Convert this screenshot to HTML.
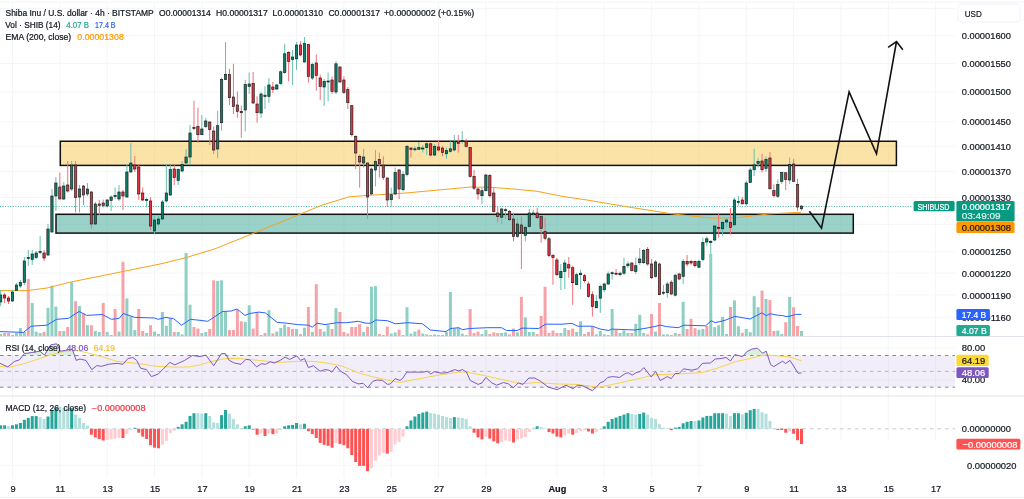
<!DOCTYPE html>
<html><head><meta charset="utf-8"><style>html,body{margin:0;padding:0;background:#fff;overflow:hidden}</style></head>
<body><svg width="1024" height="499" viewBox="0 0 1024 499" style="display:block;font-family:'Liberation Sans', sans-serif;will-change:transform">
<rect width="1024" height="499" fill="#fff"/>
<line x1="12.5" y1="2" x2="12.5" y2="478" stroke="#f4f5f7" stroke-width="1"/>
<line x1="59.8" y1="2" x2="59.8" y2="478" stroke="#f4f5f7" stroke-width="1"/>
<line x1="107.2" y1="2" x2="107.2" y2="478" stroke="#f4f5f7" stroke-width="1"/>
<line x1="154.5" y1="2" x2="154.5" y2="478" stroke="#f4f5f7" stroke-width="1"/>
<line x1="201.9" y1="2" x2="201.9" y2="478" stroke="#f4f5f7" stroke-width="1"/>
<line x1="249.2" y1="2" x2="249.2" y2="478" stroke="#f4f5f7" stroke-width="1"/>
<line x1="296.5" y1="2" x2="296.5" y2="478" stroke="#f4f5f7" stroke-width="1"/>
<line x1="343.9" y1="2" x2="343.9" y2="478" stroke="#f4f5f7" stroke-width="1"/>
<line x1="391.2" y1="2" x2="391.2" y2="478" stroke="#f4f5f7" stroke-width="1"/>
<line x1="438.6" y1="2" x2="438.6" y2="478" stroke="#f4f5f7" stroke-width="1"/>
<line x1="485.9" y1="2" x2="485.9" y2="478" stroke="#f4f5f7" stroke-width="1"/>
<line x1="556.9" y1="2" x2="556.9" y2="478" stroke="#f4f5f7" stroke-width="1"/>
<line x1="604.2" y1="2" x2="604.2" y2="478" stroke="#f4f5f7" stroke-width="1"/>
<line x1="651.6" y1="2" x2="651.6" y2="478" stroke="#f4f5f7" stroke-width="1"/>
<line x1="698.9" y1="2" x2="698.9" y2="478" stroke="#f4f5f7" stroke-width="1"/>
<line x1="746.3" y1="2" x2="746.3" y2="441" stroke="#f4f5f7" stroke-width="1"/>
<line x1="793.6" y1="2" x2="793.6" y2="441" stroke="#f4f5f7" stroke-width="1"/>
<line x1="841.0" y1="2" x2="841.0" y2="441" stroke="#f4f5f7" stroke-width="1"/>
<line x1="888.3" y1="2" x2="888.3" y2="441" stroke="#f4f5f7" stroke-width="1"/>
<line x1="935.6" y1="2" x2="935.6" y2="441" stroke="#f4f5f7" stroke-width="1"/>
<line x1="0" y1="8.6" x2="955" y2="8.6" stroke="#f4f5f7" stroke-width="1"/>
<line x1="0" y1="35.6" x2="955" y2="35.6" stroke="#f4f5f7" stroke-width="1"/>
<line x1="0" y1="63.4" x2="955" y2="63.4" stroke="#f4f5f7" stroke-width="1"/>
<line x1="0" y1="92.1" x2="955" y2="92.1" stroke="#f4f5f7" stroke-width="1"/>
<line x1="0" y1="121.8" x2="955" y2="121.8" stroke="#f4f5f7" stroke-width="1"/>
<line x1="0" y1="146.3" x2="955" y2="146.3" stroke="#f4f5f7" stroke-width="1"/>
<line x1="0" y1="171.5" x2="955" y2="171.5" stroke="#f4f5f7" stroke-width="1"/>
<line x1="0" y1="197.5" x2="955" y2="197.5" stroke="#f4f5f7" stroke-width="1"/>
<line x1="0" y1="224.3" x2="955" y2="224.3" stroke="#f4f5f7" stroke-width="1"/>
<line x1="0" y1="251.8" x2="955" y2="251.8" stroke="#f4f5f7" stroke-width="1"/>
<line x1="0" y1="273.1" x2="955" y2="273.1" stroke="#f4f5f7" stroke-width="1"/>
<line x1="0" y1="294.9" x2="955" y2="294.9" stroke="#f4f5f7" stroke-width="1"/>
<line x1="0" y1="317.3" x2="955" y2="317.3" stroke="#f4f5f7" stroke-width="1"/>
<line x1="0" y1="348" x2="955" y2="348" stroke="#f4f5f7" stroke-width="1"/>
<line x1="0" y1="380" x2="955" y2="380" stroke="#f4f5f7" stroke-width="1"/>
<line x1="0" y1="465.3" x2="705" y2="465.3" stroke="#f4f5f7" stroke-width="1"/>
<line x1="0" y1="2" x2="1024" y2="2" stroke="#f3f4f7" stroke-width="1"/>
<line x1="0" y1="336.5" x2="1024" y2="336.5" stroke="#e0e3eb" stroke-width="1"/>
<line x1="0" y1="396" x2="1024" y2="396" stroke="#e0e3eb" stroke-width="1"/>
<line x1="0" y1="497.3" x2="1024" y2="497.3" stroke="#eceef2" stroke-width="1"/>
<rect x="-0.83" y="334.0" width="3" height="2.0" fill="#8fcfc4"/>
<rect x="3.11" y="333.0" width="3" height="3.0" fill="#f5a3a9"/>
<rect x="7.05" y="333.0" width="3" height="3.0" fill="#f5a3a9"/>
<rect x="11.00" y="335.0" width="3" height="1.0" fill="#8fcfc4"/>
<rect x="14.95" y="333.0" width="3" height="3.0" fill="#8fcfc4"/>
<rect x="18.89" y="328.0" width="3" height="8.0" fill="#8fcfc4"/>
<rect x="22.84" y="332.0" width="3" height="4.0" fill="#8fcfc4"/>
<rect x="26.78" y="278.9" width="3" height="57.1" fill="#f5a3a9"/>
<rect x="30.72" y="303.0" width="3" height="33.0" fill="#8fcfc4"/>
<rect x="34.67" y="331.6" width="3" height="4.4" fill="#8fcfc4"/>
<rect x="38.61" y="333.0" width="3" height="3.0" fill="#8fcfc4"/>
<rect x="42.56" y="332.0" width="3" height="4.0" fill="#f5a3a9"/>
<rect x="46.50" y="307.8" width="3" height="28.2" fill="#8fcfc4"/>
<rect x="50.45" y="285.7" width="3" height="50.3" fill="#8fcfc4"/>
<rect x="54.39" y="306.6" width="3" height="29.4" fill="#8fcfc4"/>
<rect x="58.34" y="331.0" width="3" height="5.0" fill="#f5a3a9"/>
<rect x="62.28" y="331.0" width="3" height="5.0" fill="#8fcfc4"/>
<rect x="66.23" y="327.0" width="3" height="9.0" fill="#f5a3a9"/>
<rect x="70.17" y="282.2" width="3" height="53.8" fill="#8fcfc4"/>
<rect x="74.12" y="301.2" width="3" height="34.8" fill="#f5a3a9"/>
<rect x="78.06" y="306.0" width="3" height="30.0" fill="#8fcfc4"/>
<rect x="82.01" y="313.5" width="3" height="22.5" fill="#f5a3a9"/>
<rect x="85.95" y="325.2" width="3" height="10.8" fill="#8fcfc4"/>
<rect x="89.90" y="325.2" width="3" height="10.8" fill="#f5a3a9"/>
<rect x="93.84" y="331.0" width="3" height="5.0" fill="#8fcfc4"/>
<rect x="97.79" y="332.0" width="3" height="4.0" fill="#8fcfc4"/>
<rect x="101.73" y="303.0" width="3" height="33.0" fill="#f5a3a9"/>
<rect x="105.68" y="332.0" width="3" height="4.0" fill="#8fcfc4"/>
<rect x="109.62" y="335.0" width="3" height="1.0" fill="#8fcfc4"/>
<rect x="113.57" y="309.0" width="3" height="27.0" fill="#f5a3a9"/>
<rect x="117.52" y="331.6" width="3" height="4.4" fill="#8fcfc4"/>
<rect x="121.46" y="261.7" width="3" height="74.3" fill="#f5a3a9"/>
<rect x="125.41" y="298.4" width="3" height="37.6" fill="#8fcfc4"/>
<rect x="129.35" y="316.4" width="3" height="19.6" fill="#8fcfc4"/>
<rect x="133.30" y="330.0" width="3" height="6.0" fill="#8fcfc4"/>
<rect x="137.24" y="309.0" width="3" height="27.0" fill="#f5a3a9"/>
<rect x="141.19" y="331.0" width="3" height="5.0" fill="#f5a3a9"/>
<rect x="145.13" y="333.0" width="3" height="3.0" fill="#8fcfc4"/>
<rect x="149.07" y="325.2" width="3" height="10.8" fill="#f5a3a9"/>
<rect x="153.02" y="331.6" width="3" height="4.4" fill="#8fcfc4"/>
<rect x="156.97" y="334.0" width="3" height="2.0" fill="#8fcfc4"/>
<rect x="160.91" y="312.0" width="3" height="24.0" fill="#8fcfc4"/>
<rect x="164.85" y="325.8" width="3" height="10.2" fill="#8fcfc4"/>
<rect x="168.80" y="318.4" width="3" height="17.6" fill="#8fcfc4"/>
<rect x="172.75" y="332.0" width="3" height="4.0" fill="#f5a3a9"/>
<rect x="176.69" y="332.0" width="3" height="4.0" fill="#8fcfc4"/>
<rect x="180.63" y="334.4" width="3" height="1.6" fill="#8fcfc4"/>
<rect x="184.58" y="253.0" width="3" height="83.0" fill="#8fcfc4"/>
<rect x="188.53" y="304.7" width="3" height="31.3" fill="#8fcfc4"/>
<rect x="192.47" y="327.0" width="3" height="9.0" fill="#f5a3a9"/>
<rect x="196.41" y="328.5" width="3" height="7.5" fill="#f5a3a9"/>
<rect x="200.36" y="333.0" width="3" height="3.0" fill="#8fcfc4"/>
<rect x="204.30" y="332.0" width="3" height="4.0" fill="#8fcfc4"/>
<rect x="208.25" y="329.0" width="3" height="7.0" fill="#f5a3a9"/>
<rect x="212.19" y="280.3" width="3" height="55.7" fill="#f5a3a9"/>
<rect x="216.14" y="280.9" width="3" height="55.1" fill="#8fcfc4"/>
<rect x="220.08" y="280.3" width="3" height="55.7" fill="#8fcfc4"/>
<rect x="224.03" y="311.5" width="3" height="24.5" fill="#8fcfc4"/>
<rect x="227.97" y="330.0" width="3" height="6.0" fill="#f5a3a9"/>
<rect x="231.92" y="330.0" width="3" height="6.0" fill="#f5a3a9"/>
<rect x="235.86" y="309.6" width="3" height="26.4" fill="#f5a3a9"/>
<rect x="239.81" y="321.3" width="3" height="14.7" fill="#f5a3a9"/>
<rect x="243.75" y="321.9" width="3" height="14.1" fill="#8fcfc4"/>
<rect x="247.70" y="305.3" width="3" height="30.7" fill="#8fcfc4"/>
<rect x="251.64" y="328.5" width="3" height="7.5" fill="#f5a3a9"/>
<rect x="255.59" y="312.0" width="3" height="24.0" fill="#f5a3a9"/>
<rect x="259.53" y="335.0" width="3" height="1.0" fill="#8fcfc4"/>
<rect x="263.48" y="333.0" width="3" height="3.0" fill="#f5a3a9"/>
<rect x="267.43" y="310.2" width="3" height="25.8" fill="#8fcfc4"/>
<rect x="271.37" y="333.4" width="3" height="2.6" fill="#f5a3a9"/>
<rect x="275.31" y="331.6" width="3" height="4.4" fill="#8fcfc4"/>
<rect x="279.26" y="328.0" width="3" height="8.0" fill="#8fcfc4"/>
<rect x="283.20" y="324.6" width="3" height="11.4" fill="#8fcfc4"/>
<rect x="287.15" y="327.0" width="3" height="9.0" fill="#f5a3a9"/>
<rect x="291.09" y="329.0" width="3" height="7.0" fill="#f5a3a9"/>
<rect x="295.04" y="329.0" width="3" height="7.0" fill="#8fcfc4"/>
<rect x="298.99" y="334.0" width="3" height="2.0" fill="#f5a3a9"/>
<rect x="302.93" y="327.7" width="3" height="8.3" fill="#8fcfc4"/>
<rect x="306.88" y="307.0" width="3" height="29.0" fill="#f5a3a9"/>
<rect x="310.82" y="332.0" width="3" height="4.0" fill="#8fcfc4"/>
<rect x="314.76" y="284.2" width="3" height="51.8" fill="#f5a3a9"/>
<rect x="318.71" y="329.0" width="3" height="7.0" fill="#f5a3a9"/>
<rect x="322.65" y="331.6" width="3" height="4.4" fill="#8fcfc4"/>
<rect x="326.60" y="325.2" width="3" height="10.8" fill="#8fcfc4"/>
<rect x="330.54" y="329.0" width="3" height="7.0" fill="#f5a3a9"/>
<rect x="334.49" y="308.2" width="3" height="27.8" fill="#8fcfc4"/>
<rect x="338.44" y="312.0" width="3" height="24.0" fill="#f5a3a9"/>
<rect x="342.38" y="332.0" width="3" height="4.0" fill="#f5a3a9"/>
<rect x="346.32" y="333.6" width="3" height="2.4" fill="#f5a3a9"/>
<rect x="350.27" y="327.0" width="3" height="9.0" fill="#f5a3a9"/>
<rect x="354.21" y="327.0" width="3" height="9.0" fill="#f5a3a9"/>
<rect x="358.16" y="324.2" width="3" height="11.8" fill="#f5a3a9"/>
<rect x="362.10" y="332.0" width="3" height="4.0" fill="#8fcfc4"/>
<rect x="366.05" y="326.6" width="3" height="9.4" fill="#f5a3a9"/>
<rect x="370.00" y="286.7" width="3" height="49.3" fill="#8fcfc4"/>
<rect x="373.94" y="286.1" width="3" height="49.9" fill="#8fcfc4"/>
<rect x="377.88" y="334.0" width="3" height="2.0" fill="#f5a3a9"/>
<rect x="381.83" y="335.0" width="3" height="1.0" fill="#f5a3a9"/>
<rect x="385.77" y="326.6" width="3" height="9.4" fill="#f5a3a9"/>
<rect x="389.72" y="333.6" width="3" height="2.4" fill="#8fcfc4"/>
<rect x="393.66" y="332.4" width="3" height="3.6" fill="#8fcfc4"/>
<rect x="397.61" y="329.7" width="3" height="6.3" fill="#f5a3a9"/>
<rect x="401.56" y="335.0" width="3" height="1.0" fill="#8fcfc4"/>
<rect x="405.50" y="307.2" width="3" height="28.8" fill="#8fcfc4"/>
<rect x="409.44" y="333.6" width="3" height="2.4" fill="#8fcfc4"/>
<rect x="413.39" y="331.6" width="3" height="4.4" fill="#8fcfc4"/>
<rect x="417.33" y="329.7" width="3" height="6.3" fill="#f5a3a9"/>
<rect x="421.28" y="333.6" width="3" height="2.4" fill="#8fcfc4"/>
<rect x="425.22" y="334.4" width="3" height="1.6" fill="#8fcfc4"/>
<rect x="429.17" y="335.0" width="3" height="1.0" fill="#f5a3a9"/>
<rect x="433.12" y="334.4" width="3" height="1.6" fill="#8fcfc4"/>
<rect x="437.06" y="335.0" width="3" height="1.0" fill="#f5a3a9"/>
<rect x="441.00" y="335.0" width="3" height="1.0" fill="#f5a3a9"/>
<rect x="444.95" y="332.0" width="3" height="4.0" fill="#8fcfc4"/>
<rect x="448.89" y="292.0" width="3" height="44.0" fill="#8fcfc4"/>
<rect x="452.84" y="328.5" width="3" height="7.5" fill="#8fcfc4"/>
<rect x="456.78" y="327.7" width="3" height="8.3" fill="#8fcfc4"/>
<rect x="460.73" y="333.6" width="3" height="2.4" fill="#8fcfc4"/>
<rect x="464.67" y="335.0" width="3" height="1.0" fill="#f5a3a9"/>
<rect x="468.62" y="309.0" width="3" height="27.0" fill="#f5a3a9"/>
<rect x="472.56" y="333.0" width="3" height="3.0" fill="#f5a3a9"/>
<rect x="476.51" y="331.6" width="3" height="4.4" fill="#f5a3a9"/>
<rect x="480.45" y="334.0" width="3" height="2.0" fill="#8fcfc4"/>
<rect x="484.40" y="330.0" width="3" height="6.0" fill="#8fcfc4"/>
<rect x="488.34" y="334.0" width="3" height="2.0" fill="#f5a3a9"/>
<rect x="492.29" y="332.4" width="3" height="3.6" fill="#f5a3a9"/>
<rect x="496.23" y="333.0" width="3" height="3.0" fill="#f5a3a9"/>
<rect x="500.18" y="333.0" width="3" height="3.0" fill="#8fcfc4"/>
<rect x="504.12" y="332.4" width="3" height="3.6" fill="#8fcfc4"/>
<rect x="508.07" y="334.4" width="3" height="1.6" fill="#f5a3a9"/>
<rect x="512.01" y="328.5" width="3" height="7.5" fill="#f5a3a9"/>
<rect x="515.96" y="332.4" width="3" height="3.6" fill="#8fcfc4"/>
<rect x="519.90" y="296.9" width="3" height="39.1" fill="#f5a3a9"/>
<rect x="523.85" y="317.4" width="3" height="18.6" fill="#8fcfc4"/>
<rect x="527.79" y="332.0" width="3" height="4.0" fill="#8fcfc4"/>
<rect x="531.74" y="332.0" width="3" height="4.0" fill="#8fcfc4"/>
<rect x="535.68" y="334.0" width="3" height="2.0" fill="#f5a3a9"/>
<rect x="539.63" y="316.0" width="3" height="20.0" fill="#f5a3a9"/>
<rect x="543.57" y="286.7" width="3" height="49.3" fill="#f5a3a9"/>
<rect x="547.52" y="333.0" width="3" height="3.0" fill="#f5a3a9"/>
<rect x="551.47" y="330.5" width="3" height="5.5" fill="#f5a3a9"/>
<rect x="555.41" y="333.0" width="3" height="3.0" fill="#f5a3a9"/>
<rect x="559.36" y="333.0" width="3" height="3.0" fill="#8fcfc4"/>
<rect x="563.30" y="328.0" width="3" height="8.0" fill="#8fcfc4"/>
<rect x="567.25" y="330.0" width="3" height="6.0" fill="#f5a3a9"/>
<rect x="571.19" y="328.5" width="3" height="7.5" fill="#f5a3a9"/>
<rect x="575.13" y="332.0" width="3" height="4.0" fill="#8fcfc4"/>
<rect x="579.08" y="321.3" width="3" height="14.7" fill="#8fcfc4"/>
<rect x="583.02" y="334.0" width="3" height="2.0" fill="#f5a3a9"/>
<rect x="586.97" y="332.0" width="3" height="4.0" fill="#f5a3a9"/>
<rect x="590.91" y="326.2" width="3" height="9.8" fill="#f5a3a9"/>
<rect x="594.86" y="334.4" width="3" height="1.6" fill="#8fcfc4"/>
<rect x="598.80" y="331.0" width="3" height="5.0" fill="#8fcfc4"/>
<rect x="602.75" y="334.4" width="3" height="1.6" fill="#8fcfc4"/>
<rect x="606.69" y="335.0" width="3" height="1.0" fill="#8fcfc4"/>
<rect x="610.64" y="309.0" width="3" height="27.0" fill="#8fcfc4"/>
<rect x="614.58" y="330.0" width="3" height="6.0" fill="#f5a3a9"/>
<rect x="618.53" y="333.0" width="3" height="3.0" fill="#8fcfc4"/>
<rect x="622.48" y="330.5" width="3" height="5.5" fill="#8fcfc4"/>
<rect x="626.42" y="333.0" width="3" height="3.0" fill="#8fcfc4"/>
<rect x="630.37" y="333.0" width="3" height="3.0" fill="#f5a3a9"/>
<rect x="634.31" y="323.8" width="3" height="12.2" fill="#8fcfc4"/>
<rect x="638.25" y="314.8" width="3" height="21.2" fill="#8fcfc4"/>
<rect x="642.20" y="333.0" width="3" height="3.0" fill="#8fcfc4"/>
<rect x="646.14" y="334.4" width="3" height="1.6" fill="#f5a3a9"/>
<rect x="650.09" y="314.0" width="3" height="22.0" fill="#f5a3a9"/>
<rect x="654.03" y="331.6" width="3" height="4.4" fill="#8fcfc4"/>
<rect x="657.98" y="303.0" width="3" height="33.0" fill="#f5a3a9"/>
<rect x="661.92" y="334.4" width="3" height="1.6" fill="#8fcfc4"/>
<rect x="665.87" y="334.4" width="3" height="1.6" fill="#8fcfc4"/>
<rect x="669.81" y="335.0" width="3" height="1.0" fill="#f5a3a9"/>
<rect x="673.76" y="333.0" width="3" height="3.0" fill="#8fcfc4"/>
<rect x="677.70" y="334.0" width="3" height="2.0" fill="#f5a3a9"/>
<rect x="681.65" y="301.8" width="3" height="34.2" fill="#8fcfc4"/>
<rect x="685.60" y="329.0" width="3" height="7.0" fill="#f5a3a9"/>
<rect x="689.54" y="318.8" width="3" height="17.2" fill="#f5a3a9"/>
<rect x="693.49" y="328.1" width="3" height="7.9" fill="#f5a3a9"/>
<rect x="697.43" y="329.7" width="3" height="6.3" fill="#8fcfc4"/>
<rect x="701.38" y="329.0" width="3" height="7.0" fill="#8fcfc4"/>
<rect x="705.32" y="325.8" width="3" height="10.2" fill="#f5a3a9"/>
<rect x="709.26" y="253.9" width="3" height="82.1" fill="#8fcfc4"/>
<rect x="713.21" y="327.1" width="3" height="8.9" fill="#8fcfc4"/>
<rect x="717.15" y="325.2" width="3" height="10.8" fill="#8fcfc4"/>
<rect x="721.10" y="316.8" width="3" height="19.2" fill="#8fcfc4"/>
<rect x="725.04" y="334.0" width="3" height="2.0" fill="#8fcfc4"/>
<rect x="728.99" y="307.0" width="3" height="29.0" fill="#f5a3a9"/>
<rect x="732.93" y="300.4" width="3" height="35.6" fill="#8fcfc4"/>
<rect x="736.88" y="326.2" width="3" height="9.8" fill="#8fcfc4"/>
<rect x="740.82" y="332.8" width="3" height="3.2" fill="#f5a3a9"/>
<rect x="744.77" y="329.0" width="3" height="7.0" fill="#8fcfc4"/>
<rect x="748.71" y="332.2" width="3" height="3.8" fill="#8fcfc4"/>
<rect x="752.66" y="296.2" width="3" height="39.8" fill="#8fcfc4"/>
<rect x="756.61" y="307.2" width="3" height="28.8" fill="#8fcfc4"/>
<rect x="760.55" y="290.6" width="3" height="45.4" fill="#f5a3a9"/>
<rect x="764.50" y="299.0" width="3" height="37.0" fill="#8fcfc4"/>
<rect x="768.44" y="300.0" width="3" height="36.0" fill="#f5a3a9"/>
<rect x="772.38" y="331.0" width="3" height="5.0" fill="#f5a3a9"/>
<rect x="776.33" y="330.6" width="3" height="5.4" fill="#8fcfc4"/>
<rect x="780.27" y="334.0" width="3" height="2.0" fill="#8fcfc4"/>
<rect x="784.22" y="322.2" width="3" height="13.8" fill="#f5a3a9"/>
<rect x="788.16" y="296.9" width="3" height="39.1" fill="#8fcfc4"/>
<rect x="792.11" y="307.2" width="3" height="28.8" fill="#f5a3a9"/>
<rect x="796.05" y="326.0" width="3" height="10.0" fill="#f5a3a9"/>
<rect x="800.00" y="331.0" width="3" height="5.0" fill="#8fcfc4"/>
<polyline points="0.0,331.6 23.4,332.4 31.2,326.2 46.9,325.2 56.6,319.3 68.4,318.4 79.1,311.5 86.9,315.4 102.5,314.5 111.3,319.3 119.1,318.4 123.4,313.5 134.8,317.4 154.3,318.0 158.2,319.3 166.0,317.4 173.8,318.8 181.6,325.2 190.4,319.3 200.0,320.3 207.8,321.3 214.6,316.8 222.5,311.5 231.2,311.0 237.1,309.0 244.9,315.4 249.8,313.5 258.6,312.1 265.4,312.9 277.1,322.3 286.9,323.2 297.7,324.6 308.4,325.2 312.3,327.1 317.2,323.2 325.0,324.6 336.7,322.7 346.5,322.7 358.2,321.3 366.0,323.2 370.9,323.2 375.8,320.0 387.5,320.7 395.3,323.8 407.8,322.7 422.5,323.8 430.3,330.0 445.9,331.6 450.8,328.5 458.6,327.7 462.5,329.7 469.3,328.5 487.9,327.7 501.6,327.7 506.4,330.5 517.2,330.5 522.0,328.1 538.7,328.5 545.5,324.2 562.1,324.2 571.9,323.4 577.7,326.2 592.4,326.2 600.0,329.0 608.8,330.5 611.7,329.1 635.2,330.0 648.8,327.7 660.5,325.2 666.4,326.6 678.1,327.7 684.0,325.2 705.5,325.8 711.3,320.7 715.2,322.7 725.0,320.3 734.8,316.4 750.0,319.0 761.9,312.8 766.2,315.6 770.6,313.8 777.5,315.2 782.5,315.6 786.2,316.5 790.0,316.2 795.6,314.4 801.5,314.4" fill="none" stroke="#2962ff" stroke-width="1" stroke-linejoin="round"/>
<rect x="60.3" y="141.25" width="836.1" height="24.15" fill="rgba(246,196,70,0.47)" stroke="#111" stroke-width="1.5"/>
<rect x="56" y="214.3" width="797.3" height="18.8" fill="rgba(40,160,140,0.47)" stroke="#111" stroke-width="1.5"/>
<line x1="0" y1="206.5" x2="913" y2="206.5" stroke="#089981" stroke-width="1" stroke-dasharray="1 1.55" opacity="0.75"/>
<polyline points="0.0,290.6 27.0,290.6 47.0,288.0 70.0,282.2 125.0,271.1 160.0,264.0 185.5,257.8 215.0,248.8 255.5,232.5 301.0,213.8 321.0,205.5 348.5,197.0 366.0,195.5 406.0,193.0 471.0,187.0 490.0,187.3 511.5,188.8 537.0,191.3 562.0,196.3 587.0,200.0 624.7,206.4 672.3,213.9 712.2,218.2 737.4,217.7 768.0,214.0 781.0,213.3 801.0,212.3" fill="none" stroke="#f7a21b" stroke-width="1" stroke-linejoin="round"/>
<line x1="0.67" y1="290.0" x2="0.67" y2="306.0" stroke="#66bfae" stroke-width="1"/>
<line x1="4.61" y1="293.0" x2="4.61" y2="303.0" stroke="#f2707c" stroke-width="1"/>
<line x1="8.55" y1="296.0" x2="8.55" y2="304.0" stroke="#f2707c" stroke-width="1"/>
<line x1="12.50" y1="290.0" x2="12.50" y2="302.0" stroke="#66bfae" stroke-width="1"/>
<line x1="16.45" y1="283.0" x2="16.45" y2="291.0" stroke="#66bfae" stroke-width="1"/>
<line x1="20.39" y1="280.0" x2="20.39" y2="288.0" stroke="#66bfae" stroke-width="1"/>
<line x1="24.34" y1="257.0" x2="24.34" y2="285.0" stroke="#66bfae" stroke-width="1"/>
<line x1="28.28" y1="250.0" x2="28.28" y2="266.0" stroke="#66bfae" stroke-width="1"/>
<line x1="32.22" y1="250.0" x2="32.22" y2="265.0" stroke="#66bfae" stroke-width="1"/>
<line x1="36.17" y1="251.0" x2="36.17" y2="259.0" stroke="#66bfae" stroke-width="1"/>
<line x1="40.11" y1="236.0" x2="40.11" y2="254.0" stroke="#66bfae" stroke-width="1"/>
<line x1="44.06" y1="250.0" x2="44.06" y2="261.0" stroke="#f2707c" stroke-width="1"/>
<line x1="48.00" y1="224.0" x2="48.00" y2="256.0" stroke="#66bfae" stroke-width="1"/>
<line x1="51.95" y1="189.0" x2="51.95" y2="232.5" stroke="#66bfae" stroke-width="1"/>
<line x1="55.89" y1="177.0" x2="55.89" y2="211.0" stroke="#66bfae" stroke-width="1"/>
<line x1="59.84" y1="172.5" x2="59.84" y2="199.0" stroke="#f2707c" stroke-width="1"/>
<line x1="63.78" y1="182.0" x2="63.78" y2="200.0" stroke="#66bfae" stroke-width="1"/>
<line x1="67.73" y1="161.0" x2="67.73" y2="192.5" stroke="#f2707c" stroke-width="1"/>
<line x1="71.67" y1="161.0" x2="71.67" y2="191.0" stroke="#66bfae" stroke-width="1"/>
<line x1="75.62" y1="161.0" x2="75.62" y2="212.5" stroke="#f2707c" stroke-width="1"/>
<line x1="79.56" y1="185.0" x2="79.56" y2="212.5" stroke="#66bfae" stroke-width="1"/>
<line x1="83.51" y1="185.0" x2="83.51" y2="205.0" stroke="#f2707c" stroke-width="1"/>
<line x1="87.45" y1="183.0" x2="87.45" y2="196.0" stroke="#66bfae" stroke-width="1"/>
<line x1="91.40" y1="191.0" x2="91.40" y2="229.0" stroke="#f2707c" stroke-width="1"/>
<line x1="95.34" y1="202.0" x2="95.34" y2="225.0" stroke="#66bfae" stroke-width="1"/>
<line x1="99.29" y1="200.0" x2="99.29" y2="215.0" stroke="#f2707c" stroke-width="1"/>
<line x1="103.23" y1="199.5" x2="103.23" y2="207.5" stroke="#f2707c" stroke-width="1"/>
<line x1="107.18" y1="199.0" x2="107.18" y2="207.5" stroke="#66bfae" stroke-width="1"/>
<line x1="111.12" y1="195.5" x2="111.12" y2="211.0" stroke="#66bfae" stroke-width="1"/>
<line x1="115.07" y1="187.5" x2="115.07" y2="199.0" stroke="#66bfae" stroke-width="1"/>
<line x1="119.02" y1="185.0" x2="119.02" y2="201.0" stroke="#66bfae" stroke-width="1"/>
<line x1="122.96" y1="190.0" x2="122.96" y2="210.0" stroke="#f2707c" stroke-width="1"/>
<line x1="126.91" y1="164.0" x2="126.91" y2="197.5" stroke="#66bfae" stroke-width="1"/>
<line x1="130.85" y1="143.0" x2="130.85" y2="172.5" stroke="#66bfae" stroke-width="1"/>
<line x1="134.80" y1="156.0" x2="134.80" y2="172.0" stroke="#f2707c" stroke-width="1"/>
<line x1="138.74" y1="164.0" x2="138.74" y2="200.0" stroke="#f2707c" stroke-width="1"/>
<line x1="142.69" y1="187.5" x2="142.69" y2="201.0" stroke="#f2707c" stroke-width="1"/>
<line x1="146.63" y1="197.5" x2="146.63" y2="207.5" stroke="#66bfae" stroke-width="1"/>
<line x1="150.57" y1="197.0" x2="150.57" y2="230.0" stroke="#f2707c" stroke-width="1"/>
<line x1="154.52" y1="216.0" x2="154.52" y2="234.0" stroke="#66bfae" stroke-width="1"/>
<line x1="158.47" y1="216.0" x2="158.47" y2="226.0" stroke="#66bfae" stroke-width="1"/>
<line x1="162.41" y1="200.0" x2="162.41" y2="220.0" stroke="#66bfae" stroke-width="1"/>
<line x1="166.35" y1="164.0" x2="166.35" y2="202.5" stroke="#66bfae" stroke-width="1"/>
<line x1="170.30" y1="165.0" x2="170.30" y2="196.0" stroke="#66bfae" stroke-width="1"/>
<line x1="174.25" y1="165.0" x2="174.25" y2="185.0" stroke="#f2707c" stroke-width="1"/>
<line x1="178.19" y1="168.5" x2="178.19" y2="185.0" stroke="#66bfae" stroke-width="1"/>
<line x1="182.13" y1="161.0" x2="182.13" y2="172.5" stroke="#66bfae" stroke-width="1"/>
<line x1="186.08" y1="149.0" x2="186.08" y2="165.0" stroke="#66bfae" stroke-width="1"/>
<line x1="190.03" y1="125.0" x2="190.03" y2="165.0" stroke="#66bfae" stroke-width="1"/>
<line x1="193.97" y1="100.7" x2="193.97" y2="130.0" stroke="#f2707c" stroke-width="1"/>
<line x1="197.91" y1="107.7" x2="197.91" y2="142.8" stroke="#f2707c" stroke-width="1"/>
<line x1="201.86" y1="115.0" x2="201.86" y2="135.0" stroke="#66bfae" stroke-width="1"/>
<line x1="205.80" y1="118.0" x2="205.80" y2="128.0" stroke="#66bfae" stroke-width="1"/>
<line x1="209.75" y1="121.5" x2="209.75" y2="145.0" stroke="#f2707c" stroke-width="1"/>
<line x1="213.69" y1="126.5" x2="213.69" y2="154.0" stroke="#f2707c" stroke-width="1"/>
<line x1="217.64" y1="111.0" x2="217.64" y2="158.0" stroke="#66bfae" stroke-width="1"/>
<line x1="221.58" y1="77.6" x2="221.58" y2="130.7" stroke="#66bfae" stroke-width="1"/>
<line x1="225.53" y1="42.0" x2="225.53" y2="80.0" stroke="#66bfae" stroke-width="1"/>
<line x1="229.47" y1="68.8" x2="229.47" y2="105.0" stroke="#f2707c" stroke-width="1"/>
<line x1="233.42" y1="63.8" x2="233.42" y2="114.0" stroke="#f2707c" stroke-width="1"/>
<line x1="237.36" y1="91.4" x2="237.36" y2="117.7" stroke="#f2707c" stroke-width="1"/>
<line x1="241.31" y1="105.7" x2="241.31" y2="137.8" stroke="#f2707c" stroke-width="1"/>
<line x1="245.25" y1="80.0" x2="245.25" y2="131.5" stroke="#66bfae" stroke-width="1"/>
<line x1="249.20" y1="72.6" x2="249.20" y2="94.0" stroke="#66bfae" stroke-width="1"/>
<line x1="253.14" y1="72.0" x2="253.14" y2="104.0" stroke="#f2707c" stroke-width="1"/>
<line x1="257.09" y1="96.4" x2="257.09" y2="122.7" stroke="#f2707c" stroke-width="1"/>
<line x1="261.03" y1="92.0" x2="261.03" y2="118.0" stroke="#66bfae" stroke-width="1"/>
<line x1="264.98" y1="86.4" x2="264.98" y2="109.0" stroke="#66bfae" stroke-width="1"/>
<line x1="268.93" y1="78.0" x2="268.93" y2="102.7" stroke="#66bfae" stroke-width="1"/>
<line x1="272.87" y1="82.0" x2="272.87" y2="93.0" stroke="#f2707c" stroke-width="1"/>
<line x1="276.81" y1="84.0" x2="276.81" y2="90.0" stroke="#66bfae" stroke-width="1"/>
<line x1="280.76" y1="70.5" x2="280.76" y2="85.0" stroke="#66bfae" stroke-width="1"/>
<line x1="284.70" y1="43.8" x2="284.70" y2="73.8" stroke="#66bfae" stroke-width="1"/>
<line x1="288.65" y1="51.3" x2="288.65" y2="81.4" stroke="#f2707c" stroke-width="1"/>
<line x1="292.59" y1="50.0" x2="292.59" y2="85.0" stroke="#66bfae" stroke-width="1"/>
<line x1="296.54" y1="42.0" x2="296.54" y2="70.0" stroke="#66bfae" stroke-width="1"/>
<line x1="300.49" y1="41.3" x2="300.49" y2="56.3" stroke="#f2707c" stroke-width="1"/>
<line x1="304.43" y1="37.0" x2="304.43" y2="62.6" stroke="#66bfae" stroke-width="1"/>
<line x1="308.38" y1="43.8" x2="308.38" y2="82.6" stroke="#f2707c" stroke-width="1"/>
<line x1="312.32" y1="62.5" x2="312.32" y2="80.0" stroke="#66bfae" stroke-width="1"/>
<line x1="316.26" y1="54.5" x2="316.26" y2="90.6" stroke="#f2707c" stroke-width="1"/>
<line x1="320.21" y1="74.6" x2="320.21" y2="100.0" stroke="#f2707c" stroke-width="1"/>
<line x1="324.15" y1="79.0" x2="324.15" y2="106.0" stroke="#66bfae" stroke-width="1"/>
<line x1="328.10" y1="72.6" x2="328.10" y2="101.4" stroke="#66bfae" stroke-width="1"/>
<line x1="332.04" y1="76.4" x2="332.04" y2="94.0" stroke="#f2707c" stroke-width="1"/>
<line x1="335.99" y1="61.3" x2="335.99" y2="94.0" stroke="#66bfae" stroke-width="1"/>
<line x1="339.94" y1="66.3" x2="339.94" y2="82.6" stroke="#f2707c" stroke-width="1"/>
<line x1="343.88" y1="76.4" x2="343.88" y2="94.0" stroke="#f2707c" stroke-width="1"/>
<line x1="347.82" y1="87.0" x2="347.82" y2="109.0" stroke="#f2707c" stroke-width="1"/>
<line x1="351.77" y1="105.0" x2="351.77" y2="136.5" stroke="#f2707c" stroke-width="1"/>
<line x1="355.71" y1="135.5" x2="355.71" y2="169.0" stroke="#f2707c" stroke-width="1"/>
<line x1="359.66" y1="154.6" x2="359.66" y2="187.7" stroke="#f2707c" stroke-width="1"/>
<line x1="363.60" y1="148.8" x2="363.60" y2="167.6" stroke="#66bfae" stroke-width="1"/>
<line x1="367.55" y1="162.6" x2="367.55" y2="219.0" stroke="#f2707c" stroke-width="1"/>
<line x1="371.50" y1="167.6" x2="371.50" y2="195.0" stroke="#66bfae" stroke-width="1"/>
<line x1="375.44" y1="150.0" x2="375.44" y2="186.4" stroke="#66bfae" stroke-width="1"/>
<line x1="379.38" y1="152.6" x2="379.38" y2="177.6" stroke="#f2707c" stroke-width="1"/>
<line x1="383.33" y1="156.3" x2="383.33" y2="180.0" stroke="#f2707c" stroke-width="1"/>
<line x1="387.27" y1="177.6" x2="387.27" y2="207.0" stroke="#f2707c" stroke-width="1"/>
<line x1="391.22" y1="187.7" x2="391.22" y2="206.5" stroke="#66bfae" stroke-width="1"/>
<line x1="395.16" y1="167.6" x2="395.16" y2="195.0" stroke="#66bfae" stroke-width="1"/>
<line x1="399.11" y1="169.0" x2="399.11" y2="199.0" stroke="#f2707c" stroke-width="1"/>
<line x1="403.06" y1="171.4" x2="403.06" y2="191.4" stroke="#66bfae" stroke-width="1"/>
<line x1="407.00" y1="145.0" x2="407.00" y2="176.4" stroke="#66bfae" stroke-width="1"/>
<line x1="410.94" y1="147.6" x2="410.94" y2="157.6" stroke="#f2707c" stroke-width="1"/>
<line x1="414.89" y1="146.3" x2="414.89" y2="151.3" stroke="#66bfae" stroke-width="1"/>
<line x1="418.83" y1="142.0" x2="418.83" y2="150.0" stroke="#66bfae" stroke-width="1"/>
<line x1="422.78" y1="145.0" x2="422.78" y2="152.6" stroke="#66bfae" stroke-width="1"/>
<line x1="426.72" y1="142.5" x2="426.72" y2="155.0" stroke="#66bfae" stroke-width="1"/>
<line x1="430.67" y1="142.5" x2="430.67" y2="156.3" stroke="#f2707c" stroke-width="1"/>
<line x1="434.62" y1="143.8" x2="434.62" y2="156.3" stroke="#66bfae" stroke-width="1"/>
<line x1="438.56" y1="140.0" x2="438.56" y2="151.3" stroke="#f2707c" stroke-width="1"/>
<line x1="442.50" y1="146.3" x2="442.50" y2="156.3" stroke="#f2707c" stroke-width="1"/>
<line x1="446.45" y1="147.6" x2="446.45" y2="158.8" stroke="#66bfae" stroke-width="1"/>
<line x1="450.39" y1="141.3" x2="450.39" y2="152.6" stroke="#66bfae" stroke-width="1"/>
<line x1="454.34" y1="135.0" x2="454.34" y2="151.3" stroke="#66bfae" stroke-width="1"/>
<line x1="458.28" y1="135.0" x2="458.28" y2="152.6" stroke="#f2707c" stroke-width="1"/>
<line x1="462.23" y1="131.3" x2="462.23" y2="143.8" stroke="#66bfae" stroke-width="1"/>
<line x1="466.17" y1="138.8" x2="466.17" y2="147.6" stroke="#f2707c" stroke-width="1"/>
<line x1="470.12" y1="147.0" x2="470.12" y2="177.6" stroke="#f2707c" stroke-width="1"/>
<line x1="474.06" y1="170.0" x2="474.06" y2="190.0" stroke="#f2707c" stroke-width="1"/>
<line x1="478.01" y1="187.7" x2="478.01" y2="199.7" stroke="#f2707c" stroke-width="1"/>
<line x1="481.95" y1="187.7" x2="481.95" y2="204.0" stroke="#66bfae" stroke-width="1"/>
<line x1="485.90" y1="173.8" x2="485.90" y2="191.4" stroke="#66bfae" stroke-width="1"/>
<line x1="489.84" y1="174.0" x2="489.84" y2="197.7" stroke="#f2707c" stroke-width="1"/>
<line x1="493.79" y1="187.7" x2="493.79" y2="212.7" stroke="#f2707c" stroke-width="1"/>
<line x1="497.73" y1="206.5" x2="497.73" y2="222.7" stroke="#f2707c" stroke-width="1"/>
<line x1="501.68" y1="207.7" x2="501.68" y2="224.0" stroke="#66bfae" stroke-width="1"/>
<line x1="505.62" y1="207.7" x2="505.62" y2="219.0" stroke="#66bfae" stroke-width="1"/>
<line x1="509.57" y1="210.0" x2="509.57" y2="221.0" stroke="#f2707c" stroke-width="1"/>
<line x1="513.51" y1="214.0" x2="513.51" y2="241.5" stroke="#f2707c" stroke-width="1"/>
<line x1="517.46" y1="217.7" x2="517.46" y2="237.8" stroke="#66bfae" stroke-width="1"/>
<line x1="521.40" y1="216.5" x2="521.40" y2="269.0" stroke="#f2707c" stroke-width="1"/>
<line x1="525.35" y1="225.3" x2="525.35" y2="241.5" stroke="#66bfae" stroke-width="1"/>
<line x1="529.29" y1="209.0" x2="529.29" y2="227.3" stroke="#66bfae" stroke-width="1"/>
<line x1="533.24" y1="209.7" x2="533.24" y2="216.5" stroke="#66bfae" stroke-width="1"/>
<line x1="537.18" y1="207.7" x2="537.18" y2="219.0" stroke="#f2707c" stroke-width="1"/>
<line x1="541.13" y1="215.0" x2="541.13" y2="242.8" stroke="#f2707c" stroke-width="1"/>
<line x1="545.07" y1="217.7" x2="545.07" y2="240.3" stroke="#f2707c" stroke-width="1"/>
<line x1="549.02" y1="237.0" x2="549.02" y2="257.0" stroke="#f2707c" stroke-width="1"/>
<line x1="552.97" y1="254.0" x2="552.97" y2="284.7" stroke="#f2707c" stroke-width="1"/>
<line x1="556.91" y1="258.0" x2="556.91" y2="276.0" stroke="#f2707c" stroke-width="1"/>
<line x1="560.86" y1="264.0" x2="560.86" y2="290.0" stroke="#66bfae" stroke-width="1"/>
<line x1="564.80" y1="259.6" x2="564.80" y2="289.0" stroke="#66bfae" stroke-width="1"/>
<line x1="568.75" y1="257.0" x2="568.75" y2="277.7" stroke="#f2707c" stroke-width="1"/>
<line x1="572.69" y1="265.7" x2="572.69" y2="304.8" stroke="#f2707c" stroke-width="1"/>
<line x1="576.63" y1="272.7" x2="576.63" y2="285.2" stroke="#66bfae" stroke-width="1"/>
<line x1="580.58" y1="269.7" x2="580.58" y2="289.0" stroke="#66bfae" stroke-width="1"/>
<line x1="584.52" y1="274.0" x2="584.52" y2="282.7" stroke="#f2707c" stroke-width="1"/>
<line x1="588.47" y1="281.5" x2="588.47" y2="297.7" stroke="#f2707c" stroke-width="1"/>
<line x1="592.41" y1="291.5" x2="592.41" y2="316.5" stroke="#f2707c" stroke-width="1"/>
<line x1="596.36" y1="295.0" x2="596.36" y2="308.0" stroke="#66bfae" stroke-width="1"/>
<line x1="600.30" y1="284.7" x2="600.30" y2="312.8" stroke="#66bfae" stroke-width="1"/>
<line x1="604.25" y1="282.7" x2="604.25" y2="292.2" stroke="#66bfae" stroke-width="1"/>
<line x1="608.19" y1="271.4" x2="608.19" y2="285.2" stroke="#66bfae" stroke-width="1"/>
<line x1="612.14" y1="271.4" x2="612.14" y2="279.7" stroke="#66bfae" stroke-width="1"/>
<line x1="616.08" y1="268.9" x2="616.08" y2="275.2" stroke="#f2707c" stroke-width="1"/>
<line x1="620.03" y1="271.4" x2="620.03" y2="276.4" stroke="#66bfae" stroke-width="1"/>
<line x1="623.98" y1="257.6" x2="623.98" y2="275.0" stroke="#66bfae" stroke-width="1"/>
<line x1="627.92" y1="261.4" x2="627.92" y2="267.7" stroke="#66bfae" stroke-width="1"/>
<line x1="631.87" y1="262.2" x2="631.87" y2="271.4" stroke="#f2707c" stroke-width="1"/>
<line x1="635.81" y1="257.6" x2="635.81" y2="273.9" stroke="#66bfae" stroke-width="1"/>
<line x1="639.75" y1="248.0" x2="639.75" y2="265.0" stroke="#66bfae" stroke-width="1"/>
<line x1="643.70" y1="248.9" x2="643.70" y2="263.9" stroke="#66bfae" stroke-width="1"/>
<line x1="647.64" y1="247.0" x2="647.64" y2="265.7" stroke="#f2707c" stroke-width="1"/>
<line x1="651.59" y1="259.0" x2="651.59" y2="279.0" stroke="#f2707c" stroke-width="1"/>
<line x1="655.53" y1="260.0" x2="655.53" y2="277.7" stroke="#66bfae" stroke-width="1"/>
<line x1="659.48" y1="262.7" x2="659.48" y2="295.2" stroke="#f2707c" stroke-width="1"/>
<line x1="663.42" y1="285.0" x2="663.42" y2="295.0" stroke="#66bfae" stroke-width="1"/>
<line x1="667.37" y1="281.5" x2="667.37" y2="297.7" stroke="#66bfae" stroke-width="1"/>
<line x1="671.31" y1="280.2" x2="671.31" y2="295.2" stroke="#f2707c" stroke-width="1"/>
<line x1="675.26" y1="274.0" x2="675.26" y2="296.5" stroke="#66bfae" stroke-width="1"/>
<line x1="679.20" y1="272.7" x2="679.20" y2="280.2" stroke="#f2707c" stroke-width="1"/>
<line x1="683.15" y1="259.0" x2="683.15" y2="284.0" stroke="#66bfae" stroke-width="1"/>
<line x1="687.10" y1="255.0" x2="687.10" y2="266.4" stroke="#f2707c" stroke-width="1"/>
<line x1="691.04" y1="260.0" x2="691.04" y2="264.7" stroke="#f2707c" stroke-width="1"/>
<line x1="694.99" y1="260.7" x2="694.99" y2="267.2" stroke="#f2707c" stroke-width="1"/>
<line x1="698.93" y1="259.6" x2="698.93" y2="268.2" stroke="#66bfae" stroke-width="1"/>
<line x1="702.88" y1="237.6" x2="702.88" y2="261.4" stroke="#66bfae" stroke-width="1"/>
<line x1="706.82" y1="236.3" x2="706.82" y2="246.3" stroke="#66bfae" stroke-width="1"/>
<line x1="710.76" y1="240.0" x2="710.76" y2="254.0" stroke="#66bfae" stroke-width="1"/>
<line x1="714.71" y1="225.6" x2="714.71" y2="241.3" stroke="#66bfae" stroke-width="1"/>
<line x1="718.65" y1="214.0" x2="718.65" y2="237.5" stroke="#f2707c" stroke-width="1"/>
<line x1="722.60" y1="221.3" x2="722.60" y2="235.6" stroke="#66bfae" stroke-width="1"/>
<line x1="726.54" y1="218.0" x2="726.54" y2="227.5" stroke="#66bfae" stroke-width="1"/>
<line x1="730.49" y1="208.0" x2="730.49" y2="234.4" stroke="#f2707c" stroke-width="1"/>
<line x1="734.43" y1="197.5" x2="734.43" y2="225.6" stroke="#66bfae" stroke-width="1"/>
<line x1="738.38" y1="196.0" x2="738.38" y2="205.6" stroke="#66bfae" stroke-width="1"/>
<line x1="742.32" y1="196.9" x2="742.32" y2="204.4" stroke="#f2707c" stroke-width="1"/>
<line x1="746.27" y1="180.6" x2="746.27" y2="205.6" stroke="#66bfae" stroke-width="1"/>
<line x1="750.21" y1="167.5" x2="750.21" y2="183.0" stroke="#66bfae" stroke-width="1"/>
<line x1="754.16" y1="148.8" x2="754.16" y2="176.0" stroke="#66bfae" stroke-width="1"/>
<line x1="758.11" y1="158.0" x2="758.11" y2="167.5" stroke="#66bfae" stroke-width="1"/>
<line x1="762.05" y1="153.8" x2="762.05" y2="172.5" stroke="#f2707c" stroke-width="1"/>
<line x1="766.00" y1="156.3" x2="766.00" y2="171.9" stroke="#66bfae" stroke-width="1"/>
<line x1="769.94" y1="152.0" x2="769.94" y2="189.4" stroke="#f2707c" stroke-width="1"/>
<line x1="773.88" y1="184.4" x2="773.88" y2="197.5" stroke="#f2707c" stroke-width="1"/>
<line x1="777.83" y1="179.4" x2="777.83" y2="198.0" stroke="#66bfae" stroke-width="1"/>
<line x1="781.77" y1="171.9" x2="781.77" y2="183.8" stroke="#66bfae" stroke-width="1"/>
<line x1="785.72" y1="172.5" x2="785.72" y2="190.0" stroke="#f2707c" stroke-width="1"/>
<line x1="789.66" y1="157.5" x2="789.66" y2="183.8" stroke="#66bfae" stroke-width="1"/>
<line x1="793.61" y1="158.8" x2="793.61" y2="182.0" stroke="#f2707c" stroke-width="1"/>
<line x1="797.55" y1="178.8" x2="797.55" y2="211.0" stroke="#f2707c" stroke-width="1"/>
<line x1="801.50" y1="205.6" x2="801.50" y2="210.6" stroke="#66bfae" stroke-width="1"/>
<rect x="-0.48" y="295.0" width="2.3" height="7.0" fill="#0e7d69" stroke="#1b1b1b" stroke-width="0.65"/>
<rect x="3.46" y="295.0" width="2.3" height="3.0" fill="#e2323f" stroke="#1b1b1b" stroke-width="0.65"/>
<rect x="7.40" y="298.0" width="2.3" height="3.0" fill="#e2323f" stroke="#1b1b1b" stroke-width="0.65"/>
<rect x="11.35" y="292.0" width="2.3" height="9.0" fill="#0e7d69" stroke="#1b1b1b" stroke-width="0.65"/>
<rect x="15.29" y="285.0" width="2.3" height="5.5" fill="#0e7d69" stroke="#1b1b1b" stroke-width="0.65"/>
<rect x="19.24" y="282.5" width="2.3" height="3.5" fill="#0e7d69" stroke="#1b1b1b" stroke-width="0.65"/>
<rect x="23.19" y="261.0" width="2.3" height="21.5" fill="#0e7d69" stroke="#1b1b1b" stroke-width="0.65"/>
<rect x="27.13" y="257.5" width="2.3" height="1.0" fill="#0e7d69" stroke="#1b1b1b" stroke-width="0.65"/>
<rect x="31.07" y="254.0" width="2.3" height="5.5" fill="#0e7d69" stroke="#1b1b1b" stroke-width="0.65"/>
<rect x="35.02" y="253.0" width="2.3" height="4.5" fill="#0e7d69" stroke="#1b1b1b" stroke-width="0.65"/>
<rect x="38.96" y="251.5" width="2.3" height="1.0" fill="#0e7d69" stroke="#1b1b1b" stroke-width="0.65"/>
<rect x="42.91" y="253.0" width="2.3" height="5.0" fill="#e2323f" stroke="#1b1b1b" stroke-width="0.65"/>
<rect x="46.85" y="229.0" width="2.3" height="26.0" fill="#0e7d69" stroke="#1b1b1b" stroke-width="0.65"/>
<rect x="50.80" y="196.0" width="2.3" height="36.0" fill="#0e7d69" stroke="#1b1b1b" stroke-width="0.65"/>
<rect x="54.74" y="183.0" width="2.3" height="13.0" fill="#0e7d69" stroke="#1b1b1b" stroke-width="0.65"/>
<rect x="58.69" y="187.0" width="2.3" height="12.0" fill="#e2323f" stroke="#1b1b1b" stroke-width="0.65"/>
<rect x="62.63" y="186.0" width="2.3" height="13.0" fill="#0e7d69" stroke="#1b1b1b" stroke-width="0.65"/>
<rect x="66.58" y="185.0" width="2.3" height="6.0" fill="#e2323f" stroke="#1b1b1b" stroke-width="0.65"/>
<rect x="70.52" y="165.0" width="2.3" height="24.0" fill="#0e7d69" stroke="#1b1b1b" stroke-width="0.65"/>
<rect x="74.47" y="165.0" width="2.3" height="32.5" fill="#e2323f" stroke="#1b1b1b" stroke-width="0.65"/>
<rect x="78.41" y="189.0" width="2.3" height="8.0" fill="#0e7d69" stroke="#1b1b1b" stroke-width="0.65"/>
<rect x="82.36" y="186.0" width="2.3" height="9.0" fill="#e2323f" stroke="#1b1b1b" stroke-width="0.65"/>
<rect x="86.30" y="189.0" width="2.3" height="5.0" fill="#0e7d69" stroke="#1b1b1b" stroke-width="0.65"/>
<rect x="90.25" y="192.0" width="2.3" height="32.0" fill="#e2323f" stroke="#1b1b1b" stroke-width="0.65"/>
<rect x="94.19" y="204.0" width="2.3" height="20.0" fill="#0e7d69" stroke="#1b1b1b" stroke-width="0.65"/>
<rect x="98.14" y="204.0" width="2.3" height="1.5" fill="#e2323f" stroke="#1b1b1b" stroke-width="0.65"/>
<rect x="102.08" y="203.0" width="2.3" height="2.5" fill="#e2323f" stroke="#1b1b1b" stroke-width="0.65"/>
<rect x="106.03" y="200.0" width="2.3" height="6.0" fill="#0e7d69" stroke="#1b1b1b" stroke-width="0.65"/>
<rect x="109.97" y="197.0" width="2.3" height="3.5" fill="#0e7d69" stroke="#1b1b1b" stroke-width="0.65"/>
<rect x="113.92" y="195.5" width="2.3" height="1.0" fill="#0e7d69" stroke="#1b1b1b" stroke-width="0.65"/>
<rect x="117.86" y="192.0" width="2.3" height="7.0" fill="#0e7d69" stroke="#1b1b1b" stroke-width="0.65"/>
<rect x="121.81" y="192.0" width="2.3" height="4.0" fill="#e2323f" stroke="#1b1b1b" stroke-width="0.65"/>
<rect x="125.75" y="172.0" width="2.3" height="25.0" fill="#0e7d69" stroke="#1b1b1b" stroke-width="0.65"/>
<rect x="129.70" y="163.0" width="2.3" height="9.0" fill="#0e7d69" stroke="#1b1b1b" stroke-width="0.65"/>
<rect x="133.65" y="165.0" width="2.3" height="4.0" fill="#e2323f" stroke="#1b1b1b" stroke-width="0.65"/>
<rect x="137.59" y="167.0" width="2.3" height="27.0" fill="#e2323f" stroke="#1b1b1b" stroke-width="0.65"/>
<rect x="141.53" y="193.0" width="2.3" height="7.0" fill="#e2323f" stroke="#1b1b1b" stroke-width="0.65"/>
<rect x="145.48" y="199.5" width="2.3" height="1.0" fill="#0e7d69" stroke="#1b1b1b" stroke-width="0.65"/>
<rect x="149.42" y="201.0" width="2.3" height="25.0" fill="#e2323f" stroke="#1b1b1b" stroke-width="0.65"/>
<rect x="153.37" y="220.0" width="2.3" height="11.0" fill="#0e7d69" stroke="#1b1b1b" stroke-width="0.65"/>
<rect x="157.31" y="219.0" width="2.3" height="5.0" fill="#0e7d69" stroke="#1b1b1b" stroke-width="0.65"/>
<rect x="161.26" y="202.0" width="2.3" height="17.0" fill="#0e7d69" stroke="#1b1b1b" stroke-width="0.65"/>
<rect x="165.20" y="193.0" width="2.3" height="8.0" fill="#0e7d69" stroke="#1b1b1b" stroke-width="0.65"/>
<rect x="169.15" y="169.5" width="2.3" height="25.5" fill="#0e7d69" stroke="#1b1b1b" stroke-width="0.65"/>
<rect x="173.09" y="169.0" width="2.3" height="8.5" fill="#e2323f" stroke="#1b1b1b" stroke-width="0.65"/>
<rect x="177.04" y="169.5" width="2.3" height="11.0" fill="#0e7d69" stroke="#1b1b1b" stroke-width="0.65"/>
<rect x="180.98" y="164.5" width="2.3" height="6.5" fill="#0e7d69" stroke="#1b1b1b" stroke-width="0.65"/>
<rect x="184.93" y="157.0" width="2.3" height="6.0" fill="#0e7d69" stroke="#1b1b1b" stroke-width="0.65"/>
<rect x="188.88" y="133.0" width="2.3" height="24.0" fill="#0e7d69" stroke="#1b1b1b" stroke-width="0.65"/>
<rect x="192.82" y="127.5" width="2.3" height="1.0" fill="#e2323f" stroke="#1b1b1b" stroke-width="0.65"/>
<rect x="196.76" y="126.5" width="2.3" height="8.2" fill="#e2323f" stroke="#1b1b1b" stroke-width="0.65"/>
<rect x="200.71" y="129.0" width="2.3" height="5.7" fill="#0e7d69" stroke="#1b1b1b" stroke-width="0.65"/>
<rect x="204.65" y="121.0" width="2.3" height="5.5" fill="#0e7d69" stroke="#1b1b1b" stroke-width="0.65"/>
<rect x="208.60" y="122.0" width="2.3" height="7.5" fill="#e2323f" stroke="#1b1b1b" stroke-width="0.65"/>
<rect x="212.54" y="131.0" width="2.3" height="19.0" fill="#e2323f" stroke="#1b1b1b" stroke-width="0.65"/>
<rect x="216.49" y="125.7" width="2.3" height="23.3" fill="#0e7d69" stroke="#1b1b1b" stroke-width="0.65"/>
<rect x="220.43" y="79.4" width="2.3" height="43.3" fill="#0e7d69" stroke="#1b1b1b" stroke-width="0.65"/>
<rect x="224.38" y="74.3" width="2.3" height="5.3" fill="#0e7d69" stroke="#1b1b1b" stroke-width="0.65"/>
<rect x="228.32" y="74.6" width="2.3" height="23.1" fill="#e2323f" stroke="#1b1b1b" stroke-width="0.65"/>
<rect x="232.27" y="97.0" width="2.3" height="9.4" fill="#e2323f" stroke="#1b1b1b" stroke-width="0.65"/>
<rect x="236.21" y="105.0" width="2.3" height="6.4" fill="#e2323f" stroke="#1b1b1b" stroke-width="0.65"/>
<rect x="240.16" y="111.4" width="2.3" height="1.3" fill="#e2323f" stroke="#1b1b1b" stroke-width="0.65"/>
<rect x="244.10" y="84.6" width="2.3" height="25.4" fill="#0e7d69" stroke="#1b1b1b" stroke-width="0.65"/>
<rect x="248.05" y="84.0" width="2.3" height="2.4" fill="#0e7d69" stroke="#1b1b1b" stroke-width="0.65"/>
<rect x="251.99" y="83.4" width="2.3" height="19.6" fill="#e2323f" stroke="#1b1b1b" stroke-width="0.65"/>
<rect x="255.94" y="104.0" width="2.3" height="8.7" fill="#e2323f" stroke="#1b1b1b" stroke-width="0.65"/>
<rect x="259.88" y="94.0" width="2.3" height="19.0" fill="#0e7d69" stroke="#1b1b1b" stroke-width="0.65"/>
<rect x="263.83" y="95.2" width="2.3" height="1.2" fill="#0e7d69" stroke="#1b1b1b" stroke-width="0.65"/>
<rect x="267.78" y="85.0" width="2.3" height="11.4" fill="#0e7d69" stroke="#1b1b1b" stroke-width="0.65"/>
<rect x="271.72" y="87.0" width="2.3" height="2.6" fill="#e2323f" stroke="#1b1b1b" stroke-width="0.65"/>
<rect x="275.67" y="85.0" width="2.3" height="4.0" fill="#0e7d69" stroke="#1b1b1b" stroke-width="0.65"/>
<rect x="279.61" y="71.8" width="2.3" height="11.6" fill="#0e7d69" stroke="#1b1b1b" stroke-width="0.65"/>
<rect x="283.56" y="53.8" width="2.3" height="18.8" fill="#0e7d69" stroke="#1b1b1b" stroke-width="0.65"/>
<rect x="287.50" y="52.5" width="2.3" height="8.8" fill="#e2323f" stroke="#1b1b1b" stroke-width="0.65"/>
<rect x="291.44" y="57.0" width="2.3" height="2.6" fill="#0e7d69" stroke="#1b1b1b" stroke-width="0.65"/>
<rect x="295.39" y="45.0" width="2.3" height="13.8" fill="#0e7d69" stroke="#1b1b1b" stroke-width="0.65"/>
<rect x="299.34" y="45.0" width="2.3" height="10.0" fill="#e2323f" stroke="#1b1b1b" stroke-width="0.65"/>
<rect x="303.28" y="43.3" width="2.3" height="18.7" fill="#0e7d69" stroke="#1b1b1b" stroke-width="0.65"/>
<rect x="307.23" y="44.5" width="2.3" height="31.9" fill="#e2323f" stroke="#1b1b1b" stroke-width="0.65"/>
<rect x="311.17" y="64.6" width="2.3" height="13.4" fill="#0e7d69" stroke="#1b1b1b" stroke-width="0.65"/>
<rect x="315.12" y="63.0" width="2.3" height="12.6" fill="#e2323f" stroke="#1b1b1b" stroke-width="0.65"/>
<rect x="319.06" y="78.0" width="2.3" height="8.4" fill="#e2323f" stroke="#1b1b1b" stroke-width="0.65"/>
<rect x="323.00" y="81.4" width="2.3" height="5.6" fill="#0e7d69" stroke="#1b1b1b" stroke-width="0.65"/>
<rect x="326.95" y="81.0" width="2.3" height="1.0" fill="#0e7d69" stroke="#1b1b1b" stroke-width="0.65"/>
<rect x="330.89" y="80.0" width="2.3" height="11.4" fill="#e2323f" stroke="#1b1b1b" stroke-width="0.65"/>
<rect x="334.84" y="63.8" width="2.3" height="28.2" fill="#0e7d69" stroke="#1b1b1b" stroke-width="0.65"/>
<rect x="338.79" y="67.0" width="2.3" height="15.0" fill="#e2323f" stroke="#1b1b1b" stroke-width="0.65"/>
<rect x="342.73" y="80.0" width="2.3" height="12.6" fill="#e2323f" stroke="#1b1b1b" stroke-width="0.65"/>
<rect x="346.68" y="89.6" width="2.3" height="13.1" fill="#e2323f" stroke="#1b1b1b" stroke-width="0.65"/>
<rect x="350.62" y="105.7" width="2.3" height="29.0" fill="#e2323f" stroke="#1b1b1b" stroke-width="0.65"/>
<rect x="354.56" y="136.3" width="2.3" height="16.7" fill="#e2323f" stroke="#1b1b1b" stroke-width="0.65"/>
<rect x="358.51" y="156.3" width="2.3" height="5.7" fill="#e2323f" stroke="#1b1b1b" stroke-width="0.65"/>
<rect x="362.45" y="157.0" width="2.3" height="6.0" fill="#0e7d69" stroke="#1b1b1b" stroke-width="0.65"/>
<rect x="366.40" y="163.0" width="2.3" height="34.0" fill="#e2323f" stroke="#1b1b1b" stroke-width="0.65"/>
<rect x="370.35" y="169.0" width="2.3" height="25.0" fill="#0e7d69" stroke="#1b1b1b" stroke-width="0.65"/>
<rect x="374.29" y="161.3" width="2.3" height="8.7" fill="#0e7d69" stroke="#1b1b1b" stroke-width="0.65"/>
<rect x="378.24" y="159.6" width="2.3" height="4.2" fill="#e2323f" stroke="#1b1b1b" stroke-width="0.65"/>
<rect x="382.18" y="165.0" width="2.3" height="12.6" fill="#e2323f" stroke="#1b1b1b" stroke-width="0.65"/>
<rect x="386.12" y="178.0" width="2.3" height="22.0" fill="#e2323f" stroke="#1b1b1b" stroke-width="0.65"/>
<rect x="390.07" y="194.7" width="2.3" height="5.0" fill="#0e7d69" stroke="#1b1b1b" stroke-width="0.65"/>
<rect x="394.01" y="172.6" width="2.3" height="21.4" fill="#0e7d69" stroke="#1b1b1b" stroke-width="0.65"/>
<rect x="397.96" y="170.0" width="2.3" height="19.0" fill="#e2323f" stroke="#1b1b1b" stroke-width="0.65"/>
<rect x="401.91" y="174.6" width="2.3" height="15.1" fill="#0e7d69" stroke="#1b1b1b" stroke-width="0.65"/>
<rect x="405.85" y="146.3" width="2.3" height="28.3" fill="#0e7d69" stroke="#1b1b1b" stroke-width="0.65"/>
<rect x="409.80" y="148.0" width="2.3" height="1.3" fill="#e2323f" stroke="#1b1b1b" stroke-width="0.65"/>
<rect x="413.74" y="148.8" width="2.3" height="1.0" fill="#0e7d69" stroke="#1b1b1b" stroke-width="0.65"/>
<rect x="417.69" y="147.6" width="2.3" height="1.7" fill="#0e7d69" stroke="#1b1b1b" stroke-width="0.65"/>
<rect x="421.63" y="148.0" width="2.3" height="1.0" fill="#0e7d69" stroke="#1b1b1b" stroke-width="0.65"/>
<rect x="425.57" y="143.8" width="2.3" height="3.8" fill="#0e7d69" stroke="#1b1b1b" stroke-width="0.65"/>
<rect x="429.52" y="143.8" width="2.3" height="11.2" fill="#e2323f" stroke="#1b1b1b" stroke-width="0.65"/>
<rect x="433.47" y="146.3" width="2.3" height="8.7" fill="#0e7d69" stroke="#1b1b1b" stroke-width="0.65"/>
<rect x="437.41" y="147.0" width="2.3" height="3.0" fill="#e2323f" stroke="#1b1b1b" stroke-width="0.65"/>
<rect x="441.36" y="148.0" width="2.3" height="4.6" fill="#e2323f" stroke="#1b1b1b" stroke-width="0.65"/>
<rect x="445.30" y="150.6" width="2.3" height="3.2" fill="#0e7d69" stroke="#1b1b1b" stroke-width="0.65"/>
<rect x="449.25" y="148.8" width="2.3" height="2.5" fill="#0e7d69" stroke="#1b1b1b" stroke-width="0.65"/>
<rect x="453.19" y="141.3" width="2.3" height="8.7" fill="#0e7d69" stroke="#1b1b1b" stroke-width="0.65"/>
<rect x="457.13" y="142.5" width="2.3" height="1.0" fill="#e2323f" stroke="#1b1b1b" stroke-width="0.65"/>
<rect x="461.08" y="140.5" width="2.3" height="1.0" fill="#0e7d69" stroke="#1b1b1b" stroke-width="0.65"/>
<rect x="465.02" y="141.3" width="2.3" height="5.0" fill="#e2323f" stroke="#1b1b1b" stroke-width="0.65"/>
<rect x="468.97" y="147.6" width="2.3" height="28.8" fill="#e2323f" stroke="#1b1b1b" stroke-width="0.65"/>
<rect x="472.92" y="176.4" width="2.3" height="11.8" fill="#e2323f" stroke="#1b1b1b" stroke-width="0.65"/>
<rect x="476.86" y="189.0" width="2.3" height="5.0" fill="#e2323f" stroke="#1b1b1b" stroke-width="0.65"/>
<rect x="480.81" y="190.7" width="2.3" height="5.0" fill="#0e7d69" stroke="#1b1b1b" stroke-width="0.65"/>
<rect x="484.75" y="175.0" width="2.3" height="15.7" fill="#0e7d69" stroke="#1b1b1b" stroke-width="0.65"/>
<rect x="488.69" y="175.6" width="2.3" height="20.1" fill="#e2323f" stroke="#1b1b1b" stroke-width="0.65"/>
<rect x="492.64" y="193.0" width="2.3" height="18.5" fill="#e2323f" stroke="#1b1b1b" stroke-width="0.65"/>
<rect x="496.58" y="213.0" width="2.3" height="3.5" fill="#e2323f" stroke="#1b1b1b" stroke-width="0.65"/>
<rect x="500.53" y="209.0" width="2.3" height="8.2" fill="#0e7d69" stroke="#1b1b1b" stroke-width="0.65"/>
<rect x="504.48" y="209.7" width="2.3" height="1.0" fill="#0e7d69" stroke="#1b1b1b" stroke-width="0.65"/>
<rect x="508.42" y="211.5" width="2.3" height="8.2" fill="#e2323f" stroke="#1b1b1b" stroke-width="0.65"/>
<rect x="512.37" y="219.0" width="2.3" height="17.5" fill="#e2323f" stroke="#1b1b1b" stroke-width="0.65"/>
<rect x="516.31" y="224.0" width="2.3" height="12.5" fill="#0e7d69" stroke="#1b1b1b" stroke-width="0.65"/>
<rect x="520.25" y="225.0" width="2.3" height="7.8" fill="#e2323f" stroke="#1b1b1b" stroke-width="0.65"/>
<rect x="524.20" y="227.3" width="2.3" height="8.0" fill="#0e7d69" stroke="#1b1b1b" stroke-width="0.65"/>
<rect x="528.14" y="213.0" width="2.3" height="13.5" fill="#0e7d69" stroke="#1b1b1b" stroke-width="0.65"/>
<rect x="532.09" y="213.0" width="2.3" height="1.0" fill="#0e7d69" stroke="#1b1b1b" stroke-width="0.65"/>
<rect x="536.03" y="213.0" width="2.3" height="4.7" fill="#e2323f" stroke="#1b1b1b" stroke-width="0.65"/>
<rect x="539.98" y="216.5" width="2.3" height="11.8" fill="#e2323f" stroke="#1b1b1b" stroke-width="0.65"/>
<rect x="543.92" y="231.5" width="2.3" height="6.8" fill="#e2323f" stroke="#1b1b1b" stroke-width="0.65"/>
<rect x="547.87" y="238.8" width="2.3" height="16.8" fill="#e2323f" stroke="#1b1b1b" stroke-width="0.65"/>
<rect x="551.82" y="255.6" width="2.3" height="2.0" fill="#e2323f" stroke="#1b1b1b" stroke-width="0.65"/>
<rect x="555.76" y="260.0" width="2.3" height="14.7" fill="#e2323f" stroke="#1b1b1b" stroke-width="0.65"/>
<rect x="559.71" y="271.4" width="2.3" height="6.3" fill="#0e7d69" stroke="#1b1b1b" stroke-width="0.65"/>
<rect x="563.65" y="263.0" width="2.3" height="8.4" fill="#0e7d69" stroke="#1b1b1b" stroke-width="0.65"/>
<rect x="567.60" y="264.7" width="2.3" height="3.3" fill="#e2323f" stroke="#1b1b1b" stroke-width="0.65"/>
<rect x="571.54" y="267.7" width="2.3" height="15.0" fill="#e2323f" stroke="#1b1b1b" stroke-width="0.65"/>
<rect x="575.49" y="274.7" width="2.3" height="10.0" fill="#0e7d69" stroke="#1b1b1b" stroke-width="0.65"/>
<rect x="579.43" y="273.2" width="2.3" height="1.5" fill="#0e7d69" stroke="#1b1b1b" stroke-width="0.65"/>
<rect x="583.38" y="275.7" width="2.3" height="5.0" fill="#e2323f" stroke="#1b1b1b" stroke-width="0.65"/>
<rect x="587.32" y="284.0" width="2.3" height="12.5" fill="#e2323f" stroke="#1b1b1b" stroke-width="0.65"/>
<rect x="591.26" y="294.7" width="2.3" height="11.8" fill="#e2323f" stroke="#1b1b1b" stroke-width="0.65"/>
<rect x="595.21" y="301.5" width="2.3" height="6.3" fill="#0e7d69" stroke="#1b1b1b" stroke-width="0.65"/>
<rect x="599.15" y="286.5" width="2.3" height="11.7" fill="#0e7d69" stroke="#1b1b1b" stroke-width="0.65"/>
<rect x="603.10" y="284.0" width="2.3" height="5.7" fill="#0e7d69" stroke="#1b1b1b" stroke-width="0.65"/>
<rect x="607.04" y="274.0" width="2.3" height="10.0" fill="#0e7d69" stroke="#1b1b1b" stroke-width="0.65"/>
<rect x="610.99" y="272.7" width="2.3" height="1.0" fill="#0e7d69" stroke="#1b1b1b" stroke-width="0.65"/>
<rect x="614.93" y="273.2" width="2.3" height="1.0" fill="#e2323f" stroke="#1b1b1b" stroke-width="0.65"/>
<rect x="618.88" y="273.2" width="2.3" height="1.5" fill="#0e7d69" stroke="#1b1b1b" stroke-width="0.65"/>
<rect x="622.83" y="266.4" width="2.3" height="6.8" fill="#0e7d69" stroke="#1b1b1b" stroke-width="0.65"/>
<rect x="626.77" y="264.0" width="2.3" height="1.7" fill="#0e7d69" stroke="#1b1b1b" stroke-width="0.65"/>
<rect x="630.72" y="263.0" width="2.3" height="7.7" fill="#e2323f" stroke="#1b1b1b" stroke-width="0.65"/>
<rect x="634.66" y="265.7" width="2.3" height="5.7" fill="#0e7d69" stroke="#1b1b1b" stroke-width="0.65"/>
<rect x="638.61" y="259.0" width="2.3" height="3.7" fill="#0e7d69" stroke="#1b1b1b" stroke-width="0.65"/>
<rect x="642.55" y="250.6" width="2.3" height="12.1" fill="#0e7d69" stroke="#1b1b1b" stroke-width="0.65"/>
<rect x="646.50" y="249.6" width="2.3" height="14.4" fill="#e2323f" stroke="#1b1b1b" stroke-width="0.65"/>
<rect x="650.44" y="264.0" width="2.3" height="13.7" fill="#e2323f" stroke="#1b1b1b" stroke-width="0.65"/>
<rect x="654.38" y="262.0" width="2.3" height="14.4" fill="#0e7d69" stroke="#1b1b1b" stroke-width="0.65"/>
<rect x="658.33" y="264.0" width="2.3" height="30.7" fill="#e2323f" stroke="#1b1b1b" stroke-width="0.65"/>
<rect x="662.27" y="292.2" width="2.3" height="1.0" fill="#0e7d69" stroke="#1b1b1b" stroke-width="0.65"/>
<rect x="666.22" y="284.0" width="2.3" height="8.7" fill="#0e7d69" stroke="#1b1b1b" stroke-width="0.65"/>
<rect x="670.16" y="282.2" width="2.3" height="11.8" fill="#e2323f" stroke="#1b1b1b" stroke-width="0.65"/>
<rect x="674.11" y="275.2" width="2.3" height="20.0" fill="#0e7d69" stroke="#1b1b1b" stroke-width="0.65"/>
<rect x="678.05" y="274.0" width="2.3" height="5.0" fill="#e2323f" stroke="#1b1b1b" stroke-width="0.65"/>
<rect x="682.00" y="261.4" width="2.3" height="15.0" fill="#0e7d69" stroke="#1b1b1b" stroke-width="0.65"/>
<rect x="685.95" y="261.4" width="2.3" height="2.6" fill="#e2323f" stroke="#1b1b1b" stroke-width="0.65"/>
<rect x="689.89" y="261.4" width="2.3" height="1.6" fill="#e2323f" stroke="#1b1b1b" stroke-width="0.65"/>
<rect x="693.84" y="261.4" width="2.3" height="4.3" fill="#e2323f" stroke="#1b1b1b" stroke-width="0.65"/>
<rect x="697.78" y="261.4" width="2.3" height="5.8" fill="#0e7d69" stroke="#1b1b1b" stroke-width="0.65"/>
<rect x="701.73" y="242.6" width="2.3" height="17.0" fill="#0e7d69" stroke="#1b1b1b" stroke-width="0.65"/>
<rect x="705.67" y="238.8" width="2.3" height="3.2" fill="#0e7d69" stroke="#1b1b1b" stroke-width="0.65"/>
<rect x="709.62" y="241.4" width="2.3" height="1.2" fill="#0e7d69" stroke="#1b1b1b" stroke-width="0.65"/>
<rect x="713.56" y="226.0" width="2.3" height="14.0" fill="#0e7d69" stroke="#1b1b1b" stroke-width="0.65"/>
<rect x="717.50" y="227.3" width="2.3" height="1.0" fill="#e2323f" stroke="#1b1b1b" stroke-width="0.65"/>
<rect x="721.45" y="222.5" width="2.3" height="6.3" fill="#0e7d69" stroke="#1b1b1b" stroke-width="0.65"/>
<rect x="725.39" y="220.0" width="2.3" height="2.0" fill="#0e7d69" stroke="#1b1b1b" stroke-width="0.65"/>
<rect x="729.34" y="222.3" width="2.3" height="5.2" fill="#e2323f" stroke="#1b1b1b" stroke-width="0.65"/>
<rect x="733.28" y="200.0" width="2.3" height="24.8" fill="#0e7d69" stroke="#1b1b1b" stroke-width="0.65"/>
<rect x="737.23" y="201.5" width="2.3" height="1.0" fill="#0e7d69" stroke="#1b1b1b" stroke-width="0.65"/>
<rect x="741.17" y="200.0" width="2.3" height="3.8" fill="#e2323f" stroke="#1b1b1b" stroke-width="0.65"/>
<rect x="745.12" y="183.0" width="2.3" height="20.8" fill="#0e7d69" stroke="#1b1b1b" stroke-width="0.65"/>
<rect x="749.06" y="170.0" width="2.3" height="12.5" fill="#0e7d69" stroke="#1b1b1b" stroke-width="0.65"/>
<rect x="753.01" y="164.8" width="2.3" height="5.0" fill="#0e7d69" stroke="#1b1b1b" stroke-width="0.65"/>
<rect x="756.96" y="161.5" width="2.3" height="2.0" fill="#0e7d69" stroke="#1b1b1b" stroke-width="0.65"/>
<rect x="760.90" y="161.0" width="2.3" height="8.8" fill="#e2323f" stroke="#1b1b1b" stroke-width="0.65"/>
<rect x="764.85" y="159.4" width="2.3" height="9.1" fill="#0e7d69" stroke="#1b1b1b" stroke-width="0.65"/>
<rect x="768.79" y="158.0" width="2.3" height="30.8" fill="#e2323f" stroke="#1b1b1b" stroke-width="0.65"/>
<rect x="772.74" y="190.6" width="2.3" height="5.0" fill="#e2323f" stroke="#1b1b1b" stroke-width="0.65"/>
<rect x="776.68" y="184.4" width="2.3" height="11.9" fill="#0e7d69" stroke="#1b1b1b" stroke-width="0.65"/>
<rect x="780.62" y="172.5" width="2.3" height="8.8" fill="#0e7d69" stroke="#1b1b1b" stroke-width="0.65"/>
<rect x="784.57" y="172.8" width="2.3" height="6.6" fill="#e2323f" stroke="#1b1b1b" stroke-width="0.65"/>
<rect x="788.51" y="164.4" width="2.3" height="15.6" fill="#0e7d69" stroke="#1b1b1b" stroke-width="0.65"/>
<rect x="792.46" y="164.0" width="2.3" height="17.3" fill="#e2323f" stroke="#1b1b1b" stroke-width="0.65"/>
<rect x="796.40" y="184.4" width="2.3" height="22.6" fill="#e2323f" stroke="#1b1b1b" stroke-width="0.65"/>
<rect x="800.35" y="206.0" width="2.3" height="2.8" fill="#0e7d69" stroke="#1b1b1b" stroke-width="0.65"/>
<polyline points="809.4,211.3 821.5,228.1 849.1,91.9 876.5,153.8 896.5,41.5" fill="none" stroke="#111" stroke-width="1.6" stroke-linejoin="miter"/>
<polyline points="888.1,47.3 896.5,41.5 902.8,49.8" fill="none" stroke="#111" stroke-width="1.6"/>
<rect x="0" y="355.5" width="955" height="31.8" fill="rgba(126,87,194,0.1)"/>
<line x1="0" y1="355.5" x2="955" y2="355.5" stroke="#868993" stroke-width="1" stroke-dasharray="3.5 4"/>
<line x1="0" y1="371.4" x2="955" y2="371.4" stroke="#b2b5be" stroke-width="1" stroke-dasharray="3.5 4"/>
<line x1="0" y1="387.2" x2="955" y2="387.2" stroke="#868993" stroke-width="1" stroke-dasharray="3.5 4"/>
<defs><clipPath id="ob"><rect x="0" y="336" width="955" height="19.5"/></clipPath><clipPath id="os"><rect x="0" y="387.2" width="955" height="9"/></clipPath></defs>
<polygon points="0,355.5 0.0,363.3 7.8,366.9 14.6,361.4 19.5,359.8 24.4,353.6 31.2,352.6 40.0,351.2 44.5,355.1 50.8,344.8 56.6,343.8 60.5,351.2 67.4,350.0 72.3,349.3 76.2,360.4 80.0,359.0 85.9,360.4 91.8,369.6 96.7,365.7 101.6,366.3 108.4,364.3 117.2,363.3 123.0,364.3 127.9,358.5 132.8,357.5 136.7,360.4 140.6,368.2 146.5,369.6 151.4,376.6 158.2,374.1 164.0,368.2 169.9,362.4 174.8,364.9 184.6,360.4 192.4,355.5 200.0,356.5 205.9,355.1 213.7,365.7 221.5,353.6 225.4,353.6 229.3,360.4 234.2,363.0 241.0,364.3 245.9,359.4 249.8,359.8 256.6,366.9 261.5,363.7 265.4,364.3 270.3,361.8 274.2,363.0 280.1,360.4 285.0,357.1 289.8,359.4 296.7,355.9 300.6,360.4 304.5,358.5 308.4,367.6 313.3,365.7 320.1,371.2 325.0,369.6 328.9,370.2 331.8,372.1 336.3,366.3 340.6,371.2 346.5,374.7 352.3,381.3 358.2,383.9 363.1,383.3 367.6,387.8 372.9,381.3 376.8,380.0 382.6,380.5 387.5,384.4 390.4,383.9 395.3,378.6 400.0,380.5 402.9,378.0 406.8,372.1 415.6,372.1 423.4,372.1 427.3,371.2 430.9,374.1 434.2,371.7 441.0,373.1 446.9,372.7 454.7,369.6 458.6,370.8 462.5,369.6 466.4,372.1 470.3,380.5 478.1,384.4 482.0,382.9 485.9,377.4 491.8,382.9 496.7,385.2 503.5,382.5 508.4,383.9 513.3,387.8 518.2,382.9 523.0,384.4 528.9,378.0 534.8,378.0 540.6,381.3 548.4,387.2 557.2,389.7 566.0,385.2 572.9,388.7 577.7,385.2 582.6,385.8 592.4,390.7 596.3,387.2 600.0,382.9 603.9,381.3 607.8,377.4 612.7,376.6 619.5,377.4 625.4,373.5 628.3,372.7 632.2,375.1 636.1,372.7 640.0,371.5 643.9,367.6 651.2,377.0 655.7,371.5 660.2,380.5 667.4,376.6 671.3,378.6 675.2,373.5 679.1,373.5 683.6,368.8 691.8,370.2 697.7,368.8 702.5,363.3 710.4,363.0 715.2,359.0 721.1,358.5 726.0,357.5 730.5,361.0 734.8,354.6 742.5,356.6 746.9,351.6 751.9,349.1 757.5,348.2 762.5,353.2 766.2,351.2 770.6,364.5 773.8,366.6 782.5,361.2 785.6,363.5 790.0,360.4 798.1,373.2 801.5,372.9 801.5,355.5" fill="rgba(76,175,80,0.2)" clip-path="url(#ob)"/>
<polygon points="0,387.2 0.0,363.3 7.8,366.9 14.6,361.4 19.5,359.8 24.4,353.6 31.2,352.6 40.0,351.2 44.5,355.1 50.8,344.8 56.6,343.8 60.5,351.2 67.4,350.0 72.3,349.3 76.2,360.4 80.0,359.0 85.9,360.4 91.8,369.6 96.7,365.7 101.6,366.3 108.4,364.3 117.2,363.3 123.0,364.3 127.9,358.5 132.8,357.5 136.7,360.4 140.6,368.2 146.5,369.6 151.4,376.6 158.2,374.1 164.0,368.2 169.9,362.4 174.8,364.9 184.6,360.4 192.4,355.5 200.0,356.5 205.9,355.1 213.7,365.7 221.5,353.6 225.4,353.6 229.3,360.4 234.2,363.0 241.0,364.3 245.9,359.4 249.8,359.8 256.6,366.9 261.5,363.7 265.4,364.3 270.3,361.8 274.2,363.0 280.1,360.4 285.0,357.1 289.8,359.4 296.7,355.9 300.6,360.4 304.5,358.5 308.4,367.6 313.3,365.7 320.1,371.2 325.0,369.6 328.9,370.2 331.8,372.1 336.3,366.3 340.6,371.2 346.5,374.7 352.3,381.3 358.2,383.9 363.1,383.3 367.6,387.8 372.9,381.3 376.8,380.0 382.6,380.5 387.5,384.4 390.4,383.9 395.3,378.6 400.0,380.5 402.9,378.0 406.8,372.1 415.6,372.1 423.4,372.1 427.3,371.2 430.9,374.1 434.2,371.7 441.0,373.1 446.9,372.7 454.7,369.6 458.6,370.8 462.5,369.6 466.4,372.1 470.3,380.5 478.1,384.4 482.0,382.9 485.9,377.4 491.8,382.9 496.7,385.2 503.5,382.5 508.4,383.9 513.3,387.8 518.2,382.9 523.0,384.4 528.9,378.0 534.8,378.0 540.6,381.3 548.4,387.2 557.2,389.7 566.0,385.2 572.9,388.7 577.7,385.2 582.6,385.8 592.4,390.7 596.3,387.2 600.0,382.9 603.9,381.3 607.8,377.4 612.7,376.6 619.5,377.4 625.4,373.5 628.3,372.7 632.2,375.1 636.1,372.7 640.0,371.5 643.9,367.6 651.2,377.0 655.7,371.5 660.2,380.5 667.4,376.6 671.3,378.6 675.2,373.5 679.1,373.5 683.6,368.8 691.8,370.2 697.7,368.8 702.5,363.3 710.4,363.0 715.2,359.0 721.1,358.5 726.0,357.5 730.5,361.0 734.8,354.6 742.5,356.6 746.9,351.6 751.9,349.1 757.5,348.2 762.5,353.2 766.2,351.2 770.6,364.5 773.8,366.6 782.5,361.2 785.6,363.5 790.0,360.4 798.1,373.2 801.5,372.9 801.5,387.2" fill="rgba(242,54,69,0.15)" clip-path="url(#os)"/>
<polyline points="0.0,366.3 9.8,367.2 25.4,363.3 48.8,355.5 64.5,351.2 78.0,350.6 97.7,355.5 117.2,361.4 136.7,363.3 156.2,366.3 175.8,367.2 189.5,366.9 200.0,364.9 211.7,361.4 225.4,358.5 239.0,358.5 258.6,360.4 278.1,362.4 297.7,361.4 313.3,361.4 327.0,363.0 342.6,366.3 358.2,372.7 371.9,376.6 387.5,380.0 400.0,382.5 419.5,378.6 439.0,375.1 458.6,372.1 466.4,372.1 482.0,375.1 501.6,379.4 521.1,383.9 536.7,382.5 556.2,383.9 575.8,384.4 600.0,387.2 619.5,382.9 639.0,378.6 654.7,374.7 674.2,374.1 701.6,372.7 717.2,368.2 736.7,361.4 750.0,358.5 760.0,355.8 767.5,355.0 777.5,355.8 790.0,357.0 801.5,360.8" fill="none" stroke="#f8d34a" stroke-width="1" stroke-linejoin="round"/>
<polyline points="0.0,363.3 7.8,366.9 14.6,361.4 19.5,359.8 24.4,353.6 31.2,352.6 40.0,351.2 44.5,355.1 50.8,344.8 56.6,343.8 60.5,351.2 67.4,350.0 72.3,349.3 76.2,360.4 80.0,359.0 85.9,360.4 91.8,369.6 96.7,365.7 101.6,366.3 108.4,364.3 117.2,363.3 123.0,364.3 127.9,358.5 132.8,357.5 136.7,360.4 140.6,368.2 146.5,369.6 151.4,376.6 158.2,374.1 164.0,368.2 169.9,362.4 174.8,364.9 184.6,360.4 192.4,355.5 200.0,356.5 205.9,355.1 213.7,365.7 221.5,353.6 225.4,353.6 229.3,360.4 234.2,363.0 241.0,364.3 245.9,359.4 249.8,359.8 256.6,366.9 261.5,363.7 265.4,364.3 270.3,361.8 274.2,363.0 280.1,360.4 285.0,357.1 289.8,359.4 296.7,355.9 300.6,360.4 304.5,358.5 308.4,367.6 313.3,365.7 320.1,371.2 325.0,369.6 328.9,370.2 331.8,372.1 336.3,366.3 340.6,371.2 346.5,374.7 352.3,381.3 358.2,383.9 363.1,383.3 367.6,387.8 372.9,381.3 376.8,380.0 382.6,380.5 387.5,384.4 390.4,383.9 395.3,378.6 400.0,380.5 402.9,378.0 406.8,372.1 415.6,372.1 423.4,372.1 427.3,371.2 430.9,374.1 434.2,371.7 441.0,373.1 446.9,372.7 454.7,369.6 458.6,370.8 462.5,369.6 466.4,372.1 470.3,380.5 478.1,384.4 482.0,382.9 485.9,377.4 491.8,382.9 496.7,385.2 503.5,382.5 508.4,383.9 513.3,387.8 518.2,382.9 523.0,384.4 528.9,378.0 534.8,378.0 540.6,381.3 548.4,387.2 557.2,389.7 566.0,385.2 572.9,388.7 577.7,385.2 582.6,385.8 592.4,390.7 596.3,387.2 600.0,382.9 603.9,381.3 607.8,377.4 612.7,376.6 619.5,377.4 625.4,373.5 628.3,372.7 632.2,375.1 636.1,372.7 640.0,371.5 643.9,367.6 651.2,377.0 655.7,371.5 660.2,380.5 667.4,376.6 671.3,378.6 675.2,373.5 679.1,373.5 683.6,368.8 691.8,370.2 697.7,368.8 702.5,363.3 710.4,363.0 715.2,359.0 721.1,358.5 726.0,357.5 730.5,361.0 734.8,354.6 742.5,356.6 746.9,351.6 751.9,349.1 757.5,348.2 762.5,353.2 766.2,351.2 770.6,364.5 773.8,366.6 782.5,361.2 785.6,363.5 790.0,360.4 798.1,373.2 801.5,372.9" fill="none" stroke="#7e57c2" stroke-width="1" stroke-linejoin="round"/>
<line x1="0" y1="428.8" x2="955" y2="428.8" stroke="#c5c8d0" stroke-width="1" stroke-dasharray="3.5 4"/>
<rect x="-0.83" y="425.3" width="3" height="3.5" fill="#26a69a"/>
<rect x="3.11" y="425.3" width="3" height="3.5" fill="#26a69a"/>
<rect x="7.05" y="426.3" width="3" height="2.5" fill="#b2dfdb"/>
<rect x="11.00" y="425.3" width="3" height="3.5" fill="#26a69a"/>
<rect x="14.95" y="424.3" width="3" height="4.5" fill="#26a69a"/>
<rect x="18.89" y="423.0" width="3" height="5.8" fill="#26a69a"/>
<rect x="22.84" y="419.8" width="3" height="9.0" fill="#26a69a"/>
<rect x="26.78" y="417.9" width="3" height="10.9" fill="#26a69a"/>
<rect x="30.72" y="416.1" width="3" height="12.7" fill="#26a69a"/>
<rect x="34.67" y="416.1" width="3" height="12.7" fill="#26a69a"/>
<rect x="38.61" y="417.1" width="3" height="11.7" fill="#b2dfdb"/>
<rect x="42.56" y="419.0" width="3" height="9.8" fill="#b2dfdb"/>
<rect x="46.50" y="416.5" width="3" height="12.3" fill="#26a69a"/>
<rect x="50.45" y="410.0" width="3" height="18.8" fill="#26a69a"/>
<rect x="54.39" y="408.1" width="3" height="20.7" fill="#26a69a"/>
<rect x="58.34" y="406.7" width="3" height="22.1" fill="#b2dfdb"/>
<rect x="62.28" y="408.1" width="3" height="20.7" fill="#b2dfdb"/>
<rect x="66.23" y="408.1" width="3" height="20.7" fill="#b2dfdb"/>
<rect x="70.17" y="408.1" width="3" height="20.7" fill="#26a69a"/>
<rect x="74.12" y="414.6" width="3" height="14.2" fill="#b2dfdb"/>
<rect x="78.06" y="417.9" width="3" height="10.9" fill="#b2dfdb"/>
<rect x="82.01" y="423.0" width="3" height="5.8" fill="#b2dfdb"/>
<rect x="85.95" y="425.7" width="3" height="3.1" fill="#b2dfdb"/>
<rect x="89.90" y="428.8" width="3" height="5.9" fill="#ff5252"/>
<rect x="93.84" y="428.8" width="3" height="8.6" fill="#ff5252"/>
<rect x="97.79" y="428.8" width="3" height="10.2" fill="#ff5252"/>
<rect x="101.73" y="428.8" width="3" height="11.7" fill="#ff5252"/>
<rect x="105.68" y="428.8" width="3" height="11.2" fill="#ffcdd2"/>
<rect x="109.62" y="428.8" width="3" height="10.6" fill="#ffcdd2"/>
<rect x="113.57" y="428.8" width="3" height="9.8" fill="#ffcdd2"/>
<rect x="117.52" y="428.8" width="3" height="9.2" fill="#ffcdd2"/>
<rect x="121.46" y="428.8" width="3" height="9.2" fill="#ff5252"/>
<rect x="125.41" y="428.8" width="3" height="5.2" fill="#ffcdd2"/>
<rect x="129.35" y="428.8" width="3" height="1.4" fill="#ffcdd2"/>
<rect x="133.30" y="427.8" width="3" height="1.0" fill="#26a69a"/>
<rect x="137.24" y="428.8" width="3" height="3.9" fill="#ff5252"/>
<rect x="141.19" y="428.8" width="3" height="7.8" fill="#ff5252"/>
<rect x="145.13" y="428.8" width="3" height="10.2" fill="#ff5252"/>
<rect x="149.07" y="428.8" width="3" height="16.4" fill="#ff5252"/>
<rect x="153.02" y="428.8" width="3" height="18.9" fill="#ff5252"/>
<rect x="156.97" y="428.8" width="3" height="19.5" fill="#ff5252"/>
<rect x="160.91" y="428.8" width="3" height="16.0" fill="#ffcdd2"/>
<rect x="164.85" y="428.8" width="3" height="12.1" fill="#ffcdd2"/>
<rect x="168.80" y="428.8" width="3" height="4.3" fill="#ffcdd2"/>
<rect x="172.75" y="428.8" width="3" height="2.0" fill="#ffcdd2"/>
<rect x="176.69" y="426.9" width="3" height="1.9" fill="#26a69a"/>
<rect x="180.63" y="424.3" width="3" height="4.5" fill="#26a69a"/>
<rect x="184.58" y="421.8" width="3" height="7.0" fill="#26a69a"/>
<rect x="188.53" y="415.9" width="3" height="12.9" fill="#26a69a"/>
<rect x="192.47" y="413.2" width="3" height="15.6" fill="#26a69a"/>
<rect x="196.41" y="413.2" width="3" height="15.6" fill="#b2dfdb"/>
<rect x="200.36" y="413.6" width="3" height="15.2" fill="#b2dfdb"/>
<rect x="204.30" y="413.2" width="3" height="15.6" fill="#26a69a"/>
<rect x="208.25" y="415.9" width="3" height="12.9" fill="#b2dfdb"/>
<rect x="212.19" y="422.4" width="3" height="6.4" fill="#b2dfdb"/>
<rect x="216.14" y="423.0" width="3" height="5.8" fill="#b2dfdb"/>
<rect x="220.08" y="415.1" width="3" height="13.7" fill="#26a69a"/>
<rect x="224.03" y="410.0" width="3" height="18.8" fill="#26a69a"/>
<rect x="227.97" y="413.6" width="3" height="15.2" fill="#b2dfdb"/>
<rect x="231.92" y="419.0" width="3" height="9.8" fill="#b2dfdb"/>
<rect x="235.86" y="424.3" width="3" height="4.5" fill="#b2dfdb"/>
<rect x="239.81" y="428.2" width="3" height="0.6" fill="#b2dfdb"/>
<rect x="243.75" y="426.3" width="3" height="2.5" fill="#26a69a"/>
<rect x="247.70" y="425.3" width="3" height="3.5" fill="#26a69a"/>
<rect x="251.64" y="428.8" width="3" height="0.8" fill="#ff5252"/>
<rect x="255.59" y="428.8" width="3" height="5.9" fill="#ff5252"/>
<rect x="259.53" y="428.8" width="3" height="4.7" fill="#ffcdd2"/>
<rect x="263.48" y="428.8" width="3" height="7.2" fill="#ff5252"/>
<rect x="267.43" y="428.8" width="3" height="4.7" fill="#ffcdd2"/>
<rect x="271.37" y="428.8" width="3" height="5.3" fill="#ff5252"/>
<rect x="275.31" y="428.8" width="3" height="4.7" fill="#ffcdd2"/>
<rect x="279.26" y="428.8" width="3" height="1.4" fill="#ffcdd2"/>
<rect x="283.20" y="426.3" width="3" height="2.5" fill="#26a69a"/>
<rect x="287.15" y="425.3" width="3" height="3.5" fill="#26a69a"/>
<rect x="291.09" y="424.9" width="3" height="3.9" fill="#26a69a"/>
<rect x="295.04" y="423.0" width="3" height="5.8" fill="#26a69a"/>
<rect x="298.99" y="424.3" width="3" height="4.5" fill="#b2dfdb"/>
<rect x="302.93" y="423.7" width="3" height="5.1" fill="#26a69a"/>
<rect x="306.88" y="428.8" width="3" height="2.4" fill="#ff5252"/>
<rect x="310.82" y="428.8" width="3" height="5.3" fill="#ff5252"/>
<rect x="314.76" y="428.8" width="3" height="9.2" fill="#ff5252"/>
<rect x="318.71" y="428.8" width="3" height="14.1" fill="#ff5252"/>
<rect x="322.65" y="428.8" width="3" height="16.0" fill="#ff5252"/>
<rect x="326.60" y="428.8" width="3" height="17.0" fill="#ff5252"/>
<rect x="330.54" y="428.8" width="3" height="18.9" fill="#ff5252"/>
<rect x="334.49" y="428.8" width="3" height="14.1" fill="#ffcdd2"/>
<rect x="338.44" y="428.8" width="3" height="15.1" fill="#ff5252"/>
<rect x="342.38" y="428.8" width="3" height="16.4" fill="#ff5252"/>
<rect x="346.32" y="428.8" width="3" height="19.5" fill="#ff5252"/>
<rect x="350.27" y="428.8" width="3" height="26.2" fill="#ff5252"/>
<rect x="354.21" y="428.8" width="3" height="33.2" fill="#ff5252"/>
<rect x="358.16" y="428.8" width="3" height="37.1" fill="#ff5252"/>
<rect x="362.10" y="428.8" width="3" height="37.1" fill="#ff5252"/>
<rect x="366.05" y="428.8" width="3" height="42.4" fill="#ff5252"/>
<rect x="370.00" y="428.8" width="3" height="39.1" fill="#ffcdd2"/>
<rect x="373.94" y="428.8" width="3" height="32.0" fill="#ffcdd2"/>
<rect x="377.88" y="428.8" width="3" height="26.8" fill="#ffcdd2"/>
<rect x="381.83" y="428.8" width="3" height="24.2" fill="#ffcdd2"/>
<rect x="385.77" y="428.8" width="3" height="24.8" fill="#ff5252"/>
<rect x="389.72" y="428.8" width="3" height="22.9" fill="#ffcdd2"/>
<rect x="393.66" y="428.8" width="3" height="15.6" fill="#ffcdd2"/>
<rect x="397.61" y="428.8" width="3" height="13.1" fill="#ffcdd2"/>
<rect x="401.56" y="428.8" width="3" height="7.8" fill="#ffcdd2"/>
<rect x="405.50" y="426.3" width="3" height="2.5" fill="#26a69a"/>
<rect x="409.44" y="420.4" width="3" height="8.4" fill="#26a69a"/>
<rect x="413.39" y="416.5" width="3" height="12.3" fill="#26a69a"/>
<rect x="417.33" y="414.0" width="3" height="14.8" fill="#26a69a"/>
<rect x="421.28" y="412.6" width="3" height="16.2" fill="#26a69a"/>
<rect x="425.22" y="411.6" width="3" height="17.2" fill="#26a69a"/>
<rect x="429.17" y="413.2" width="3" height="15.6" fill="#b2dfdb"/>
<rect x="433.12" y="413.6" width="3" height="15.2" fill="#b2dfdb"/>
<rect x="437.06" y="414.6" width="3" height="14.2" fill="#b2dfdb"/>
<rect x="441.00" y="415.9" width="3" height="12.9" fill="#b2dfdb"/>
<rect x="444.95" y="417.1" width="3" height="11.7" fill="#b2dfdb"/>
<rect x="448.89" y="417.9" width="3" height="10.9" fill="#b2dfdb"/>
<rect x="452.84" y="417.1" width="3" height="11.7" fill="#26a69a"/>
<rect x="456.78" y="417.5" width="3" height="11.3" fill="#b2dfdb"/>
<rect x="460.73" y="417.9" width="3" height="10.9" fill="#b2dfdb"/>
<rect x="464.67" y="419.0" width="3" height="9.8" fill="#b2dfdb"/>
<rect x="468.62" y="426.3" width="3" height="2.5" fill="#b2dfdb"/>
<rect x="472.56" y="428.8" width="3" height="3.9" fill="#ff5252"/>
<rect x="476.51" y="428.8" width="3" height="8.6" fill="#ff5252"/>
<rect x="480.45" y="428.8" width="3" height="10.6" fill="#ff5252"/>
<rect x="484.40" y="428.8" width="3" height="7.8" fill="#ffcdd2"/>
<rect x="488.34" y="428.8" width="3" height="9.8" fill="#ff5252"/>
<rect x="492.29" y="428.8" width="3" height="12.5" fill="#ff5252"/>
<rect x="496.23" y="428.8" width="3" height="14.5" fill="#ff5252"/>
<rect x="500.18" y="428.8" width="3" height="13.1" fill="#ffcdd2"/>
<rect x="504.12" y="428.8" width="3" height="11.7" fill="#ffcdd2"/>
<rect x="508.07" y="428.8" width="3" height="12.5" fill="#ffcdd2"/>
<rect x="512.01" y="428.8" width="3" height="13.7" fill="#ff5252"/>
<rect x="515.96" y="428.8" width="3" height="10.6" fill="#ffcdd2"/>
<rect x="519.90" y="428.8" width="3" height="9.8" fill="#ffcdd2"/>
<rect x="523.85" y="428.8" width="3" height="8.2" fill="#ffcdd2"/>
<rect x="527.79" y="428.8" width="3" height="3.3" fill="#ffcdd2"/>
<rect x="531.74" y="427.6" width="3" height="1.2" fill="#b2dfdb"/>
<rect x="535.68" y="426.3" width="3" height="2.5" fill="#26a69a"/>
<rect x="539.63" y="427.2" width="3" height="1.6" fill="#b2dfdb"/>
<rect x="543.57" y="428.2" width="3" height="0.6" fill="#b2dfdb"/>
<rect x="547.52" y="428.8" width="3" height="3.3" fill="#ff5252"/>
<rect x="551.47" y="428.8" width="3" height="4.7" fill="#ff5252"/>
<rect x="555.41" y="428.8" width="3" height="7.8" fill="#ff5252"/>
<rect x="559.36" y="428.8" width="3" height="8.6" fill="#ff5252"/>
<rect x="563.30" y="428.8" width="3" height="6.3" fill="#ffcdd2"/>
<rect x="567.25" y="428.8" width="3" height="4.7" fill="#ffcdd2"/>
<rect x="571.19" y="428.8" width="3" height="5.9" fill="#ff5252"/>
<rect x="575.13" y="428.8" width="3" height="4.3" fill="#ffcdd2"/>
<rect x="579.08" y="428.8" width="3" height="2.4" fill="#ffcdd2"/>
<rect x="583.02" y="428.8" width="3" height="1.4" fill="#ffcdd2"/>
<rect x="586.97" y="428.8" width="3" height="2.7" fill="#ff5252"/>
<rect x="590.91" y="428.8" width="3" height="4.7" fill="#ff5252"/>
<rect x="594.86" y="428.8" width="3" height="3.3" fill="#ffcdd2"/>
<rect x="598.80" y="428.8" width="3" height="0.8" fill="#ffcdd2"/>
<rect x="602.75" y="426.3" width="3" height="2.5" fill="#26a69a"/>
<rect x="606.69" y="421.8" width="3" height="7.0" fill="#26a69a"/>
<rect x="610.64" y="419.0" width="3" height="9.8" fill="#26a69a"/>
<rect x="614.58" y="417.5" width="3" height="11.3" fill="#26a69a"/>
<rect x="618.53" y="415.9" width="3" height="12.9" fill="#26a69a"/>
<rect x="622.48" y="414.6" width="3" height="14.2" fill="#26a69a"/>
<rect x="626.42" y="413.2" width="3" height="15.6" fill="#26a69a"/>
<rect x="630.37" y="414.0" width="3" height="14.8" fill="#b2dfdb"/>
<rect x="634.31" y="414.6" width="3" height="14.2" fill="#b2dfdb"/>
<rect x="638.25" y="414.0" width="3" height="14.8" fill="#26a69a"/>
<rect x="642.20" y="412.6" width="3" height="16.2" fill="#26a69a"/>
<rect x="646.14" y="414.6" width="3" height="14.2" fill="#b2dfdb"/>
<rect x="650.09" y="417.9" width="3" height="10.9" fill="#b2dfdb"/>
<rect x="654.03" y="419.0" width="3" height="9.8" fill="#b2dfdb"/>
<rect x="657.98" y="424.3" width="3" height="4.5" fill="#b2dfdb"/>
<rect x="661.92" y="427.6" width="3" height="1.2" fill="#b2dfdb"/>
<rect x="665.87" y="428.2" width="3" height="0.6" fill="#b2dfdb"/>
<rect x="669.81" y="428.8" width="3" height="1.4" fill="#ff5252"/>
<rect x="673.76" y="427.6" width="3" height="1.2" fill="#26a69a"/>
<rect x="677.70" y="426.9" width="3" height="1.9" fill="#26a69a"/>
<rect x="681.65" y="423.3" width="3" height="5.5" fill="#26a69a"/>
<rect x="685.60" y="421.8" width="3" height="7.0" fill="#26a69a"/>
<rect x="689.54" y="421.0" width="3" height="7.8" fill="#26a69a"/>
<rect x="693.49" y="421.0" width="3" height="7.8" fill="#b2dfdb"/>
<rect x="697.43" y="420.4" width="3" height="8.4" fill="#26a69a"/>
<rect x="701.38" y="417.5" width="3" height="11.3" fill="#26a69a"/>
<rect x="705.32" y="415.9" width="3" height="12.9" fill="#26a69a"/>
<rect x="709.26" y="415.9" width="3" height="12.9" fill="#26a69a"/>
<rect x="713.21" y="413.2" width="3" height="15.6" fill="#26a69a"/>
<rect x="717.15" y="413.2" width="3" height="15.6" fill="#26a69a"/>
<rect x="721.10" y="413.2" width="3" height="15.6" fill="#26a69a"/>
<rect x="725.04" y="413.6" width="3" height="15.2" fill="#b2dfdb"/>
<rect x="728.99" y="415.9" width="3" height="12.9" fill="#b2dfdb"/>
<rect x="732.93" y="413.2" width="3" height="15.6" fill="#26a69a"/>
<rect x="736.88" y="413.2" width="3" height="15.6" fill="#26a69a"/>
<rect x="740.82" y="414.4" width="3" height="14.4" fill="#b2dfdb"/>
<rect x="744.77" y="412.8" width="3" height="16.1" fill="#26a69a"/>
<rect x="748.71" y="410.2" width="3" height="18.6" fill="#26a69a"/>
<rect x="752.66" y="409.0" width="3" height="19.8" fill="#26a69a"/>
<rect x="756.61" y="409.0" width="3" height="19.8" fill="#b2dfdb"/>
<rect x="760.55" y="412.2" width="3" height="16.6" fill="#b2dfdb"/>
<rect x="764.50" y="413.8" width="3" height="15.1" fill="#b2dfdb"/>
<rect x="768.44" y="421.0" width="3" height="7.8" fill="#b2dfdb"/>
<rect x="772.38" y="428.1" width="3" height="0.7" fill="#b2dfdb"/>
<rect x="776.33" y="428.8" width="3" height="1.2" fill="#ff5252"/>
<rect x="780.27" y="428.8" width="3" height="1.2" fill="#ff5252"/>
<rect x="784.22" y="428.8" width="3" height="3.9" fill="#ff5252"/>
<rect x="788.16" y="428.8" width="3" height="2.2" fill="#ffcdd2"/>
<rect x="792.11" y="428.8" width="3" height="4.9" fill="#ff5252"/>
<rect x="796.05" y="428.8" width="3" height="11.4" fill="#ff5252"/>
<rect x="800.00" y="428.8" width="3" height="15.2" fill="#ff5252"/>
<text x="5.5" y="16.2" font-size="8.3" fill="#131722" stroke="#131722" stroke-width="0.22" text-anchor="start" font-weight="normal" textLength="148.2" lengthAdjust="spacingAndGlyphs">Shiba Inu / U.S. dollar · 4h · BITSTAMP</text>
<text x="159" y="16.2" font-size="8.3" fill="#131722" stroke="#131722" stroke-width="0.22" text-anchor="start" font-weight="normal" textLength="51.7" lengthAdjust="spacingAndGlyphs">O0.00001314</text>
<text x="216" y="16.2" font-size="8.3" fill="#131722" stroke="#131722" stroke-width="0.22" text-anchor="start" font-weight="normal" textLength="51.7" lengthAdjust="spacingAndGlyphs">H0.00001317</text>
<text x="272.6" y="16.2" font-size="8.3" fill="#131722" stroke="#131722" stroke-width="0.22" text-anchor="start" font-weight="normal" textLength="50.5" lengthAdjust="spacingAndGlyphs">L0.00001310</text>
<text x="328.4" y="16.2" font-size="8.3" fill="#131722" stroke="#131722" stroke-width="0.22" text-anchor="start" font-weight="normal" textLength="51.7" lengthAdjust="spacingAndGlyphs">C0.00001317</text>
<text x="383.9" y="16.2" font-size="8.3" fill="#131722" stroke="#131722" stroke-width="0.22" text-anchor="start" font-weight="normal" textLength="90.3" lengthAdjust="spacingAndGlyphs">+0.00000002 (+0.15%)</text>
<text x="5.3" y="27.9" font-size="8.3" fill="#131722" stroke="#131722" stroke-width="0.22" text-anchor="start" font-weight="normal" textLength="55.3" lengthAdjust="spacingAndGlyphs">Vol · SHIB (14)</text>
<text x="66.3" y="27.9" font-size="8.3" fill="#22ab94" stroke="#22ab94" stroke-width="0.22" text-anchor="start" font-weight="normal" textLength="22.7" lengthAdjust="spacingAndGlyphs">4.07 B</text>
<text x="95" y="27.9" font-size="8.3" fill="#2962ff" stroke="#2962ff" stroke-width="0.22" text-anchor="start" font-weight="normal" textLength="20.6" lengthAdjust="spacingAndGlyphs">17.4 B</text>
<text x="5.6" y="39.6" font-size="8.3" fill="#131722" stroke="#131722" stroke-width="0.22" text-anchor="start" font-weight="normal" textLength="65.6" lengthAdjust="spacingAndGlyphs">EMA (200, close)</text>
<text x="77.3" y="39.6" font-size="8.3" fill="#ff9800" stroke="#ff9800" stroke-width="0.22" text-anchor="start" font-weight="normal" textLength="46.5" lengthAdjust="spacingAndGlyphs">0.00001308</text>
<text x="5.5" y="351.2" font-size="8.3" fill="#131722" stroke="#131722" stroke-width="0.22" text-anchor="start" font-weight="normal" textLength="55" lengthAdjust="spacingAndGlyphs">RSI (14, close)</text>
<text x="66.4" y="351.2" font-size="8.3" fill="#7e57c2" stroke="#7e57c2" stroke-width="0.22" text-anchor="start" font-weight="normal" textLength="21.9" lengthAdjust="spacingAndGlyphs">48.06</text>
<text x="93.8" y="351.2" font-size="8.3" fill="#fbc02d" stroke="#fbc02d" stroke-width="0.22" text-anchor="start" font-weight="normal" textLength="21" lengthAdjust="spacingAndGlyphs">64.19</text>
<text x="5.5" y="411.3" font-size="8.3" fill="#131722" stroke="#131722" stroke-width="0.22" text-anchor="start" font-weight="normal" textLength="80.5" lengthAdjust="spacingAndGlyphs">MACD (12, 26, close)</text>
<text x="91.8" y="411.3" font-size="8.3" fill="#f23645" stroke="#f23645" stroke-width="0.22" text-anchor="start" font-weight="normal" textLength="53.7" lengthAdjust="spacingAndGlyphs">−0.00000008</text>
<text x="961.7" y="39.45" font-size="9.6" fill="#131722" stroke="#131722" stroke-width="0.22" text-anchor="start" font-weight="normal" textLength="49.3" lengthAdjust="spacingAndGlyphs">0.00001600</text>
<text x="961.7" y="66.95" font-size="9.6" fill="#131722" stroke="#131722" stroke-width="0.22" text-anchor="start" font-weight="normal" textLength="49.3" lengthAdjust="spacingAndGlyphs">0.00001550</text>
<text x="961.7" y="94.95" font-size="9.6" fill="#131722" stroke="#131722" stroke-width="0.22" text-anchor="start" font-weight="normal" textLength="49.3" lengthAdjust="spacingAndGlyphs">0.00001500</text>
<text x="961.7" y="125.45" font-size="9.6" fill="#131722" stroke="#131722" stroke-width="0.22" text-anchor="start" font-weight="normal" textLength="49.3" lengthAdjust="spacingAndGlyphs">0.00001450</text>
<text x="961.7" y="149.85" font-size="9.6" fill="#131722" stroke="#131722" stroke-width="0.22" text-anchor="start" font-weight="normal" textLength="49.3" lengthAdjust="spacingAndGlyphs">0.00001410</text>
<text x="961.7" y="175.14999999999998" font-size="9.6" fill="#131722" stroke="#131722" stroke-width="0.22" text-anchor="start" font-weight="normal" textLength="49.3" lengthAdjust="spacingAndGlyphs">0.00001370</text>
<text x="961.7" y="200.85" font-size="9.6" fill="#131722" stroke="#131722" stroke-width="0.22" text-anchor="start" font-weight="normal" textLength="49.3" lengthAdjust="spacingAndGlyphs">0.00001330</text>
<text x="961.7" y="255.45" font-size="9.6" fill="#131722" stroke="#131722" stroke-width="0.22" text-anchor="start" font-weight="normal" textLength="49.3" lengthAdjust="spacingAndGlyphs">0.00001250</text>
<text x="961.7" y="277.15" font-size="9.6" fill="#131722" stroke="#131722" stroke-width="0.22" text-anchor="start" font-weight="normal" textLength="49.3" lengthAdjust="spacingAndGlyphs">0.00001220</text>
<text x="961.7" y="298.75" font-size="9.6" fill="#131722" stroke="#131722" stroke-width="0.22" text-anchor="start" font-weight="normal" textLength="49.3" lengthAdjust="spacingAndGlyphs">0.00001190</text>
<text x="961.7" y="321.05" font-size="9.6" fill="#131722" stroke="#131722" stroke-width="0.22" text-anchor="start" font-weight="normal" textLength="49.3" lengthAdjust="spacingAndGlyphs">0.00001160</text>
<rect x="958" y="4" width="62" height="18" rx="3" fill="#fff" stroke="#f0f3fa" stroke-width="1"/>
<text x="964.8" y="17" font-size="9.6" fill="#131722" stroke="#131722" stroke-width="0.22" text-anchor="start" font-weight="normal" textLength="17" lengthAdjust="spacingAndGlyphs">USD</text>
<rect x="913.6" y="201" width="41" height="10.3" rx="1.5" fill="#089981"/><text x="917.5" y="209.6" font-size="9.6" fill="#fff" stroke="#fff" stroke-width="0.22" text-anchor="start" font-weight="normal" textLength="32" lengthAdjust="spacingAndGlyphs">SHIBUSD</text>
<rect x="956.4" y="201" width="58.2" height="20.4" rx="1.5" fill="#089981"/>
<text x="961.7" y="209.5" font-size="9.6" fill="#fff" stroke="#fff" stroke-width="0.22" text-anchor="start" font-weight="normal" textLength="49.3" lengthAdjust="spacingAndGlyphs">0.00001317</text>
<text x="961.7" y="219.4" font-size="9.6" fill="rgba(255,255,255,0.8)" stroke="rgba(255,255,255,0.8)" stroke-width="0.22" text-anchor="start" font-weight="normal" textLength="39" lengthAdjust="spacingAndGlyphs">03:49:09</text>
<rect x="956.4" y="222" width="58.2" height="11" rx="1.5" fill="#ff9800"/><text x="961.7" y="230.95" font-size="9.6" fill="#131722" stroke="#131722" stroke-width="0.22" text-anchor="start" font-weight="normal" textLength="49.3" lengthAdjust="spacingAndGlyphs">0.00001308</text>
<rect x="956.4" y="309" width="33.5" height="11" rx="1.5" fill="#2962ff"/><text x="961.7" y="317.95" font-size="9.6" fill="#fff" stroke="#fff" stroke-width="0.22" text-anchor="start" font-weight="normal" textLength="24.5" lengthAdjust="spacingAndGlyphs">17.4 B</text>
<rect x="956.4" y="325" width="33.5" height="11" rx="1.5" fill="#22ab94"/><text x="961.7" y="333.95" font-size="9.6" fill="#fff" stroke="#fff" stroke-width="0.22" text-anchor="start" font-weight="normal" textLength="25" lengthAdjust="spacingAndGlyphs">4.07 B</text>
<text x="961.7" y="351.3" font-size="9.6" fill="#131722" stroke="#131722" stroke-width="0.22" text-anchor="start" font-weight="normal" textLength="23.5" lengthAdjust="spacingAndGlyphs">80.00</text>
<text x="961.7" y="383.4" font-size="9.6" fill="#131722" stroke="#131722" stroke-width="0.22" text-anchor="start" font-weight="normal" textLength="23.5" lengthAdjust="spacingAndGlyphs">40.00</text>
<rect x="956.4" y="354.8" width="32.3" height="11.2" rx="1.5" fill="#fdd835"/><text x="961.7" y="363.85" font-size="9.6" fill="#131722" stroke="#131722" stroke-width="0.22" text-anchor="start" font-weight="normal" textLength="23.5" lengthAdjust="spacingAndGlyphs">64.19</text>
<rect x="956.4" y="367.3" width="32.3" height="10.7" rx="1.5" fill="#7e57c2"/><text x="961.7" y="376.1" font-size="9.6" fill="#fff" stroke="#fff" stroke-width="0.22" text-anchor="start" font-weight="normal" textLength="23.5" lengthAdjust="spacingAndGlyphs">48.06</text>
<text x="961.7" y="432.2" font-size="9.6" fill="#131722" stroke="#131722" stroke-width="0.22" text-anchor="start" font-weight="normal" textLength="49.3" lengthAdjust="spacingAndGlyphs">0.00000000</text>
<rect x="956.4" y="438.7" width="64" height="10.9" rx="1.5" fill="#ff5252"/><text x="962.5" y="447.59999999999997" font-size="9.6" fill="#fff" stroke="#fff" stroke-width="0.22" text-anchor="start" font-weight="normal" textLength="55" lengthAdjust="spacingAndGlyphs">−0.00000008</text>
<text x="967" y="468.5" font-size="9.6" fill="#131722" stroke="#131722" stroke-width="0.22" text-anchor="start" font-weight="normal" textLength="49.5" lengthAdjust="spacingAndGlyphs">0.00000020</text>
<text x="13.0" y="491.7" font-size="9.2" fill="#131722" stroke="#131722" stroke-width="0.22" text-anchor="middle" font-weight="normal">9</text>
<text x="60.3" y="491.7" font-size="9.2" fill="#131722" stroke="#131722" stroke-width="0.22" text-anchor="middle" font-weight="normal">11</text>
<text x="107.7" y="491.7" font-size="9.2" fill="#131722" stroke="#131722" stroke-width="0.22" text-anchor="middle" font-weight="normal">13</text>
<text x="155.0" y="491.7" font-size="9.2" fill="#131722" stroke="#131722" stroke-width="0.22" text-anchor="middle" font-weight="normal">15</text>
<text x="202.4" y="491.7" font-size="9.2" fill="#131722" stroke="#131722" stroke-width="0.22" text-anchor="middle" font-weight="normal">17</text>
<text x="249.7" y="491.7" font-size="9.2" fill="#131722" stroke="#131722" stroke-width="0.22" text-anchor="middle" font-weight="normal">19</text>
<text x="297.0" y="491.7" font-size="9.2" fill="#131722" stroke="#131722" stroke-width="0.22" text-anchor="middle" font-weight="normal">21</text>
<text x="344.4" y="491.7" font-size="9.2" fill="#131722" stroke="#131722" stroke-width="0.22" text-anchor="middle" font-weight="normal">23</text>
<text x="391.7" y="491.7" font-size="9.2" fill="#131722" stroke="#131722" stroke-width="0.22" text-anchor="middle" font-weight="normal">25</text>
<text x="439.1" y="491.7" font-size="9.2" fill="#131722" stroke="#131722" stroke-width="0.22" text-anchor="middle" font-weight="normal">27</text>
<text x="486.4" y="491.7" font-size="9.2" fill="#131722" stroke="#131722" stroke-width="0.22" text-anchor="middle" font-weight="normal">29</text>
<text x="557.4" y="491.7" font-size="9.2" fill="#131722" stroke="#131722" stroke-width="0.22" text-anchor="middle" font-weight="bold">Aug</text>
<text x="604.8" y="491.7" font-size="9.2" fill="#131722" stroke="#131722" stroke-width="0.22" text-anchor="middle" font-weight="normal">3</text>
<text x="652.1" y="491.7" font-size="9.2" fill="#131722" stroke="#131722" stroke-width="0.22" text-anchor="middle" font-weight="normal">5</text>
<text x="699.4" y="491.7" font-size="9.2" fill="#131722" stroke="#131722" stroke-width="0.22" text-anchor="middle" font-weight="normal">7</text>
<text x="746.8" y="491.7" font-size="9.2" fill="#131722" stroke="#131722" stroke-width="0.22" text-anchor="middle" font-weight="normal">9</text>
<text x="794.1" y="491.7" font-size="9.2" fill="#131722" stroke="#131722" stroke-width="0.22" text-anchor="middle" font-weight="normal">11</text>
<text x="841.5" y="491.7" font-size="9.2" fill="#131722" stroke="#131722" stroke-width="0.22" text-anchor="middle" font-weight="normal">13</text>
<text x="888.8" y="491.7" font-size="9.2" fill="#131722" stroke="#131722" stroke-width="0.22" text-anchor="middle" font-weight="normal">15</text>
<text x="936.1" y="491.7" font-size="9.2" fill="#131722" stroke="#131722" stroke-width="0.22" text-anchor="middle" font-weight="normal">17</text>
</svg></body></html>
